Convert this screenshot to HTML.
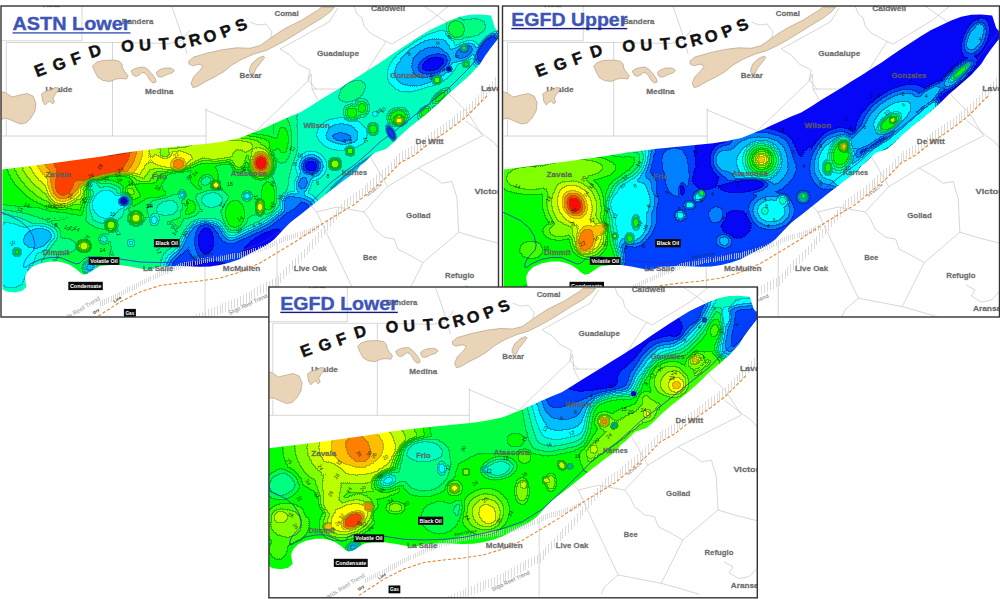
<!DOCTYPE html>
<html><head><meta charset="utf-8"><title>EGFD / ASTN isopach maps</title>
<style>html,body{margin:0;padding:0;background:#fff;}body{width:1000px;height:599px;overflow:hidden;font-family:"Liberation Sans",sans-serif;}svg{display:block;}</style>
</head><body>
<svg width="1000" height="599" viewBox="0 0 1000 599" font-family="Liberation Sans, sans-serif">
<defs>
<filter id="cmap" x="0" y="0" width="100%" height="100%" filterUnits="objectBoundingBox" color-interpolation-filters="sRGB"><feColorMatrix in="SourceGraphic" type="matrix" values="0 0 0 0 0  0 0 0 0 0  0 0 0 0 0  1 0 0 0 0" result="a"/><feComponentTransfer in="a" result="qa"><feFuncA type="discrete" tableValues="0.0000 0.0625 0.1250 0.1875 0.2500 0.3125 0.3750 0.4375 0.5000 0.5625 0.6250 0.6875 0.7500 0.8125 0.8750 0.9375 1.0000"/></feComponentTransfer><feMorphology in="qa" operator="dilate" radius="1.1" result="da"/><feComposite in="da" in2="qa" operator="arithmetic" k1="0" k2="14" k3="-14" k4="0" result="edge"/><feComponentTransfer in="edge" result="edge2"><feFuncA type="linear" slope="0.33"/></feComponentTransfer><feComponentTransfer in="SourceGraphic" result="col"><feFuncR type="discrete" tableValues="0.031 0.000 0.000 0.000 0.000 0.000 0.000 0.000 0.000 0.251 0.502 0.749 1.000 1.000 1.000 1.000 1.000"/><feFuncG type="discrete" tableValues="0.031 0.251 0.502 0.749 1.000 1.000 1.000 1.000 1.000 1.000 1.000 1.000 1.000 0.749 0.502 0.251 0.039"/><feFuncB type="discrete" tableValues="0.973 1.000 1.000 1.000 1.000 0.749 0.502 0.251 0.000 0.000 0.000 0.000 0.000 0.000 0.000 0.000 0.039"/></feComponentTransfer><feMerge><feMergeNode in="col"/><feMergeNode in="edge2"/></feMerge></filter>
<filter id="blur2_5" x="-50%" y="-50%" width="200%" height="200%" color-interpolation-filters="sRGB"><feGaussianBlur stdDeviation="2.5"/></filter><filter id="blur3" x="-50%" y="-50%" width="200%" height="200%" color-interpolation-filters="sRGB"><feGaussianBlur stdDeviation="3"/></filter><filter id="blur4" x="-50%" y="-50%" width="200%" height="200%" color-interpolation-filters="sRGB"><feGaussianBlur stdDeviation="4"/></filter><filter id="blur5" x="-50%" y="-50%" width="200%" height="200%" color-interpolation-filters="sRGB"><feGaussianBlur stdDeviation="5"/></filter><filter id="blur6" x="-50%" y="-50%" width="200%" height="200%" color-interpolation-filters="sRGB"><feGaussianBlur stdDeviation="6"/></filter><filter id="blur8" x="-50%" y="-50%" width="200%" height="200%" color-interpolation-filters="sRGB"><feGaussianBlur stdDeviation="8"/></filter>
<clipPath id="clipPoly"><polygon points="2.5,169.5 50,163.5 100,156.7 128,152.3 156,148.8 184,146 212,143.2 226,141 240,138 250,134 260,130 270,125.5 280,121 290,116.5 300,112.5 310,106.5 320,100 330,94 340,88 350,81.5 360,75.5 370,69 380,62.7 390,55.7 400,49 410,42.5 420,36 430,30 440,25.2 450,20.5 460,16.8 470,14.7 480,14.5 491,15.5 495,28 498.5,32 498.5,38 490,49 485,56 480,64 470,75 462,82 454,89 448,94 443,99 438,104 430,111 421,118.5 410,127 400,136 393,143 386,149 380,151 375,152.5 371,156 365,162 360,166 356.7,170.7 350,176 343.3,180.7 336.7,186 330,191 320,199 310,207 300,215 290,222.5 282,231 274,239.5 266,245.5 258,249.5 250,253.5 240,259 230,262.5 220,265 210,266.5 200,266.7 180,266 160,266.7 153,269 148,270 140,268.4 130,266.5 120,265 110,265 100,266 96,268 92,271 87,274 83,274.5 80,272.5 76,269 70,265 65,263 58,261.5 50,261.5 40,263.5 32,267 27,272 25,277 25.5,282 26.5,287 22,291 15,292.5 6,291.5 2.5,289"/></clipPath>
<clipPath id="frame0"><rect x="1" y="6" width="497.5" height="311"/></clipPath>
<clipPath id="frame1"><rect x="502.5" y="6" width="497" height="311"/></clipPath>
<clipPath id="frame2"><rect x="268.9" y="287" width="488.4" height="310.8"/></clipPath>
<g id="baseUnder"><g fill="none" stroke="#b4b4b4" stroke-width="0.55">
<polyline points="82,6 82,40.8 1,40.8"/>
<polyline points="6.3,42.5 113,42.5 170,43.5 182,40 190,30"/>
<polyline points="6.3,42.5 6.3,136"/>
<polyline points="112.5,42.5 112.5,136"/>
<polyline points="1,136 206,136"/>
<polyline points="206,108 206,160"/>
<polyline points="172,7 180,30 187,54"/>
<polyline points="206,110 232,121 256,131 282,106 308,81 311,74"/>
<polyline points="256,131 272,160"/>
<polyline points="250,22 258,25 266,24 272,32 270,40"/>
<polyline points="312,89 341,89"/>
<polyline points="311,74 312,89 318,100"/>
<polyline points="354,6 357,14 362,18 364,26 370,33 386,41.5 392,44 430,21 446,8 449,6"/>
<polyline points="386,41.5 370,66 364,76"/>
<polyline points="424,6 438,16 452,26"/>
<polyline points="280,49 329,22 338,8"/>
<polyline points="280,49 290,55 298,64 310,70 308,80 316,89"/>
<polyline points="369,154.4 387.6,186.6"/>
<polyline points="482.4,135.8 418,168 387.6,186.6 364,212"/>
<polyline points="418,168 435,178 441.8,183.2 452,181.5 457,198.4 458.7,232.2 423,262.7"/>
<polyline points="423,262.7 411.3,256 397.8,249 394.4,239 384.3,237.3 374,229 369,218.7 364,212"/>
<polyline points="465.4,120.6 494.2,142.6 500,150"/>
<polyline points="458.7,232.2 478,238 498,243"/>
<polyline points="448,93 468,113 482.4,135.8"/>
<polyline points="337,207 364,212"/>
<polyline points="316.6,212 337,207"/>
<polyline points="316.6,212 357.2,298.2 401,306.7 423,262.7"/>
<polyline points="357.2,298.2 343.7,310 340,318"/>
<polyline points="316.6,212 306,200"/>
<polyline points="401,306.7 420,312 440,318"/>
<polyline points="465,285 474,290 470,296 480,302 490,300 498,292"/>
<polyline points="205,224 205,320"/>
<polyline points="277,243 277,320"/>
</g>
<g font-weight="bold" font-size="16.5" fill="#111" stroke="#111" stroke-width="0.45" text-anchor="middle">
<text transform="translate(40 70) rotate(-21)" x="0" y="5.7">E</text>
<text transform="translate(59 64) rotate(-20)" x="0" y="5.7">G</text>
<text transform="translate(76 58.5) rotate(-20)" x="0" y="5.7">F</text>
<text transform="translate(95 51) rotate(-18)" x="0" y="5.7">D</text>
<text transform="translate(127.5 46) rotate(-6)" x="0" y="5.7">O</text>
<text transform="translate(145 45) rotate(-4)" x="0" y="5.7">U</text>
<text transform="translate(164 43.7) rotate(-4)" x="0" y="5.7">T</text>
<text transform="translate(180 42.3) rotate(-8)" x="0" y="5.7">C</text>
<text transform="translate(195 39.7) rotate(-14)" x="0" y="5.7">R</text>
<text transform="translate(210 36) rotate(-19)" x="0" y="5.7">O</text>
<text transform="translate(226 31) rotate(-22)" x="0" y="5.7">P</text>
<text transform="translate(241 25) rotate(-25)" x="0" y="5.7">S</text>
</g></g>
<g id="baseOver"><path d="M100.5 301.2v5.5M102.6 300.2v5.5M104.7 299.1v5.5M106.8 298.1v5.5M108.9 297.1v5.5M111.0 296.0v5.5M113.1 295.0v5.5M115.2 293.9v5.5M117.3 292.9v5.5M119.4 291.8v5.5M121.5 290.7v5.5M123.6 289.6v5.5M125.7 288.5v5.5M127.8 287.4v5.5M129.9 286.3v5.5M132.0 285.2v5.5M134.1 284.1v5.5M136.2 283.0v5.5M138.3 281.9v5.5M140.4 280.8v5.5M142.5 279.8v5.5M144.6 278.7v5.5M146.7 277.7v5.5M148.8 276.6v5.5M150.9 275.6v5.5M153.0 274.5v5.5M155.1 273.5v5.5M157.2 272.4v5.5M159.3 271.4v5.5M161.4 270.4v5.5M163.5 269.6v5.5M165.6 268.8v5.5M167.7 268.1v5.5M169.8 267.3v5.5M171.9 266.5v5.5M174.0 265.7v5.5M176.1 264.9v5.5M178.2 264.1v5.5M180.3 263.3v5.5M182.4 262.8v5.5M184.5 262.3v5.5M186.6 261.7v5.5M188.7 261.2v5.5M190.8 260.7v5.5M192.9 260.2v5.5M195.0 259.6v5.5M197.1 259.1v5.5M199.2 258.6v5.5M201.3 258.1v5.5M203.4 257.8v5.5M205.5 257.5v5.5M207.6 257.2v5.5M209.7 256.9v5.5M211.8 256.6v5.5M213.9 256.2v5.5M216.0 255.9v5.5M218.1 255.6v5.5M220.2 255.3v5.5M222.3 255.0v5.5M224.4 254.7v5.5M226.5 254.4v5.5M228.6 254.0v5.5M230.7 253.7v5.5M232.8 253.4v5.5M234.9 253.1v5.5M237.0 252.8v5.5M239.1 252.5v5.5M241.2 252.0v5.5M243.3 251.4v5.5M245.4 250.8v5.5M247.5 250.2v5.5M249.6 249.5v5.5M251.7 248.9v5.5M253.8 248.3v5.5M255.9 247.6v5.5M258.0 247.0v5.5M260.1 246.4v5.5M262.2 245.6v5.5M264.3 244.8v5.5M266.4 244.0v5.5M268.5 243.2v5.5M270.6 242.4v5.5M272.7 241.6v5.5M274.8 240.8v5.5M276.9 239.8v5.5M279.0 238.8v5.5M281.1 237.7v5.5M283.2 236.7v5.5M285.3 235.6v5.5M287.4 235.1v5.5M289.5 234.5v5.5M291.6 234.0v5.5M293.7 233.5v5.5M295.8 232.9v5.5M297.9 232.4v5.5M300.0 231.9v5.5M302.1 231.1v5.5M304.2 230.4v5.5M306.3 229.6v5.5M308.4 228.8v5.5M310.5 228.0v5.5M312.6 227.2v5.5M314.7 226.1v5.5M316.8 225.1v5.5M318.9 224.0v5.5" fill="none" stroke="#d2d2d2" stroke-width="0.8" shape-rendering="crispEdges"/>
<path d="M176.5 323.2v9.5M179.4 322.0v9.5M182.3 320.7v9.5M185.2 319.4v9.5M188.1 318.2v9.5M191.0 316.9v9.5M193.9 315.6v9.5M196.8 314.4v9.5M199.7 313.1v9.5M202.6 311.8v9.5M205.5 310.6v9.5M208.4 309.3v9.5M211.3 308.1v9.5M214.2 306.9v9.5M217.1 305.8v9.5M220.0 304.6v9.5M222.9 303.4v9.5M225.8 302.2v9.5M228.7 301.0v9.5M231.6 299.9v9.5M234.5 298.7v9.5M237.4 297.5v9.5M240.3 296.3v9.5M243.2 294.7v9.5M246.1 293.1v9.5M249.0 291.5v9.5M251.9 289.8v9.5M254.8 288.2v9.5M257.7 286.5v9.5M260.6 284.9v9.5M263.5 283.5v9.5M266.4 282.0v9.5M269.3 280.6v9.5M272.2 279.1v9.5M275.1 277.7v9.5M278.0 276.2v9.5M280.9 273.1v9.5M283.8 269.9v9.5M286.7 266.7v9.5M289.6 263.6v9.5M292.5 260.4v9.5M295.4 257.5v9.5M298.3 254.6v9.5M301.2 251.7v9.5M304.1 248.8v9.5M307.0 245.9v9.5M309.9 242.6v9.5M312.8 239.1v9.5M315.7 235.6v9.5M318.6 232.2v9.5M321.5 228.7v9.5M324.4 225.1v9.5M327.3 221.3v9.5M330.2 217.5v9.5M333.1 213.8v9.5M336.0 210.3v9.5M338.9 207.0v9.5M341.8 203.6v9.5M344.7 200.2v9.5M347.6 197.9v9.5M350.5 195.9v9.5M353.4 194.0v9.5M356.3 192.1v9.5M359.2 190.1v9.5M362.1 187.9v9.5M365.0 185.4v9.5M367.9 182.9v9.5M370.8 180.4v9.5M373.7 177.9v9.5M376.6 175.4v9.5M379.5 172.9v9.5M382.4 170.4v9.5M385.3 167.9v9.5M388.2 165.0v9.5M391.1 162.0v9.5M394.0 159.0v9.5M396.9 156.0v9.5M399.8 153.0v9.5M402.7 151.0v9.5M405.6 149.5v9.5M408.5 147.9v9.5M411.4 146.3v9.5M414.3 144.7v9.5M417.2 142.8v9.5M420.1 140.7v9.5M423.0 138.7v9.5M425.9 136.6v9.5M428.8 134.5v9.5M431.7 132.4v9.5M434.6 130.3v9.5M437.5 128.2v9.5M440.4 126.1v9.5M443.3 124.0v9.5M446.2 121.9v9.5M449.1 119.8v9.5M452.0 117.6v9.5M454.9 115.5v9.5M457.8 113.3v9.5M460.7 111.1v9.5M463.6 108.9v9.5M466.5 106.8v9.5M469.4 103.9v9.5M472.3 101.0v9.5M475.2 98.1v9.5M478.1 95.2v9.5M481.0 92.3v9.5M483.9 89.4v9.5M486.8 86.5v9.5M489.7 83.5v9.5M492.6 80.5v9.5M495.5 77.4v9.5M498.4 74.4v9.5" fill="none" stroke="#d2d2d2" stroke-width="0.8" shape-rendering="crispEdges"/>
<polyline points="94,319 100,315 120,302 140,292 160,285.5 180,283 200,281 220,278 240,272 260,263 280,251 298,240 325,222 355,204 385,178.7 400,163 415,154.7 430,142.7 448,130.6 466,117 478,105 487,96" fill="none" stroke="#e8862a" stroke-width="1.1" stroke-dasharray="3.2 2"/>
<polyline points="88,257 100,257 120,259 140,262 160,262.6 180,262 200,260 220,256 240,251 260,244 280,231.5 300,213 320,193.5 330,183.3 343.3,173 356.7,163 370,151.3 380,142 400,127 420,111 430,103 450,87 470,67 480,55 490,41 498.5,30" fill="none" stroke="#2a2ad8" stroke-width="0.8"/>
<polyline points="1,212 10,216 20,221 28,228 33,236 35,245 34,250 30,254 26,259 24,263 23.5,267 26,267.3 30,264 40,259.5 50,257.5 60,257.5 70,261.5 76,264 80,263 84,259 88,257" fill="none" stroke="#2a2ad8" stroke-width="0.8"/>
<g font-weight="bold" font-size="7.2" fill="#5e5e5e" fill-opacity="0.88" stroke="#5e5e5e" stroke-width="0.28" stroke-opacity="0.8">
<text x="121.7" y="23.9" textLength="31.6" lengthAdjust="spacingAndGlyphs">Bandera</text>
<text x="274.5" y="15.6" textLength="24.2" lengthAdjust="spacingAndGlyphs">Comal</text>
<text x="371" y="11.1" textLength="34" lengthAdjust="spacingAndGlyphs">Caldwell</text>
<text x="317" y="55.8" textLength="42" lengthAdjust="spacingAndGlyphs">Guadalupe</text>
<text x="239.5" y="78.4" textLength="22.2" lengthAdjust="spacingAndGlyphs">Bexar</text>
<text x="145" y="93.8" textLength="28.4" lengthAdjust="spacingAndGlyphs">Medina</text>
<text x="45.4" y="91.6" textLength="27" lengthAdjust="spacingAndGlyphs">Uvalde</text>
<text x="390.3" y="78.3" textLength="35" lengthAdjust="spacingAndGlyphs">Gonzales</text>
<text x="481" y="90.6" textLength="30" lengthAdjust="spacingAndGlyphs">Lavaca</text>
<text x="303.4" y="127.6" textLength="26.6" lengthAdjust="spacingAndGlyphs">Wilson</text>
<text x="415.6" y="144.1" textLength="28" lengthAdjust="spacingAndGlyphs">De Witt</text>
<text x="45.4" y="177.3" textLength="25.4" lengthAdjust="spacingAndGlyphs">Zavala</text>
<text x="152" y="179.4" textLength="14.8" lengthAdjust="spacingAndGlyphs">Frio</text>
<text x="230.8" y="176.2" textLength="36" lengthAdjust="spacingAndGlyphs">Atascosa</text>
<text x="342" y="174.6" textLength="25" lengthAdjust="spacingAndGlyphs">Karnes</text>
<text x="474.4" y="193.6" textLength="34" lengthAdjust="spacingAndGlyphs">Victoria</text>
<text x="406" y="218.4" textLength="24.6" lengthAdjust="spacingAndGlyphs">Goliad</text>
<text x="42.7" y="255.3" textLength="26.7" lengthAdjust="spacingAndGlyphs">Dimmit</text>
<text x="143" y="270.6" textLength="30.6" lengthAdjust="spacingAndGlyphs">La Salle</text>
<text x="222.8" y="270.6" textLength="37.5" lengthAdjust="spacingAndGlyphs">McMullen</text>
<text x="293.8" y="271.3" textLength="33.2" lengthAdjust="spacingAndGlyphs">Live Oak</text>
<text x="363" y="260.1" textLength="14" lengthAdjust="spacingAndGlyphs">Bee</text>
<text x="445" y="277.6" textLength="29.4" lengthAdjust="spacingAndGlyphs">Refugio</text>
<text x="471.7" y="311.4" textLength="33" lengthAdjust="spacingAndGlyphs">Aransas</text>
<text x="43" y="7.1" textLength="17" lengthAdjust="spacingAndGlyphs">Real</text>
</g>
<g fill="#ead4b7" stroke="#9c8468" stroke-width="0.5" stroke-linejoin="round">
<polygon points="0,91 6,93 12,97 20,95 27,93.5 33,96 36,103 35,111 31,118 26,123 20,124 13,121 6,118 0,120"/>
<polygon points="41.5,94 46,91 51,90 55,87.5 59,88 58,91 55.5,94 53,98 54.5,102 52.5,104 50,101 47,103 45,105 42.5,101 42,97"/>
<polygon points="92.5,66 96,62.5 102,60.5 112,60 119,61 122,64 122.5,68 125,72 128,75.5 126.5,79 121,78.5 116,79 110,81.5 103,80.5 98,77.5 95,72"/>
<polygon points="131,71 134,69 139,67.5 144,67 148,69.5 152,74 155.5,79 156,82 153,83 150,80.5 147.5,76 145,73 142,72.5 139.5,75 136,76.5 133,75"/>
<polygon points="156.5,72 160,69.5 165,68 171,68 174.5,70.5 172,73 167,74.5 162,77 158.5,77 157,75"/>
<polygon points="188.7,61 193.7,57 208.7,52.7 223.7,49.5 237,47.8 250.3,48.2 260,45.5 270,38.5 278,33 286,28 294,24 302,20 310,15 318,10 321.5,7 334.5,7 330,12 322,18 308,26.5 292,36.5 283.7,41.5 276,45.5 266,50.5 253.7,54.2 242,59.2 232,65 223.7,71.7 215.3,76.7 205.3,81.7 197,86.7 192.8,87.5 191,83.3 193.7,76.7 200.3,70 203,66 199,64.2 192.5,65.8 189,64"/>
<polygon points="249.5,69 252,63.3 257.8,58.3 262.8,56 264.7,57.3 260.3,63.3 256.2,68.3 254.2,73 251,74 249.5,72"/>
</g>
<rect x="153.9" y="239" width="25.6" height="8.3" fill="#0a0a0a"/>
<text x="155.5" y="245.1" textLength="22.4" lengthAdjust="spacingAndGlyphs" font-weight="bold" font-size="5.6" fill="#fff">Black Oil</text>
<rect x="88.6" y="257" width="30.8" height="7.9" fill="#0a0a0a"/>
<text x="90.2" y="262.7" textLength="27.6" lengthAdjust="spacingAndGlyphs" font-weight="bold" font-size="5.6" fill="#fff">Volatile Oil</text>
<rect x="68.3" y="281.8" width="34.5" height="8.3" fill="#0a0a0a"/>
<text x="69.9" y="287.9" textLength="31.3" lengthAdjust="spacingAndGlyphs" font-weight="bold" font-size="5.6" fill="#fff">Condensate</text>
<rect x="123.9" y="308.9" width="12" height="8" fill="#0a0a0a"/>
<text x="125.5" y="314.7" textLength="8.8" lengthAdjust="spacingAndGlyphs" font-weight="bold" font-size="5.6" fill="#fff">Gas</text>
<text transform="translate(229.5 315) rotate(-25)" font-size="5.7" fill="#777">Sligo Reef Trend</text>
<text transform="translate(100.5 299.8) rotate(-31)" text-anchor="end" font-size="6.2" fill="#9a9a9a">Edwards Reef Trend</text>
<text transform="translate(94 314.5) rotate(-35)" font-size="4.2" font-weight="bold" fill="#333">Dry</text>
<text transform="translate(114.5 303) rotate(-33)" font-size="4.2" font-weight="bold" fill="#333">Line</text>
<text transform="translate(191 258.5) rotate(-10)" font-size="3.8" fill="#223">Black Oil Line</text>
<text transform="translate(367.5 197) rotate(-40)" font-size="3.2" fill="#333">Dry Gas Line</text></g>
</defs>
<rect width="1000" height="599" fill="#fff"/>
<g clip-path="url(#frame0)">
<rect x="1" y="6" width="497.5" height="311" fill="#fff"/>
<g transform="translate(0 0) scale(1)">
<use href="#baseUnder"/>
<defs><radialGradient id="g0_0"><stop offset="0" stop-color="#eeeeee"/><stop offset="0.38" stop-color="#eeeeee"/><stop offset="1" stop-color="#eeeeee" stop-opacity="0"/></radialGradient><radialGradient id="g0_1"><stop offset="0" stop-color="#fdfdfd"/><stop offset="0.5" stop-color="#fdfdfd"/><stop offset="1" stop-color="#fdfdfd" stop-opacity="0"/></radialGradient><radialGradient id="g0_2"><stop offset="0" stop-color="#e6e6e6"/><stop offset="0.35" stop-color="#e6e6e6"/><stop offset="1" stop-color="#e6e6e6" stop-opacity="0"/></radialGradient><radialGradient id="g0_3"><stop offset="0" stop-color="#7d7d7d"/><stop offset="0.6" stop-color="#7d7d7d"/><stop offset="1" stop-color="#7d7d7d" stop-opacity="0"/></radialGradient><radialGradient id="g0_4"><stop offset="0" stop-color="#383838"/><stop offset="0.55" stop-color="#383838"/><stop offset="1" stop-color="#383838" stop-opacity="0"/></radialGradient><radialGradient id="g0_5"><stop offset="0" stop-color="#7a7a7a"/><stop offset="0.35" stop-color="#7a7a7a"/><stop offset="1" stop-color="#7a7a7a" stop-opacity="0"/></radialGradient><radialGradient id="g0_6"><stop offset="0" stop-color="#5c5c5c"/><stop offset="0.35" stop-color="#5c5c5c"/><stop offset="1" stop-color="#5c5c5c" stop-opacity="0"/></radialGradient><radialGradient id="g0_7"><stop offset="0" stop-color="#373737"/><stop offset="0.4" stop-color="#373737"/><stop offset="1" stop-color="#373737" stop-opacity="0"/></radialGradient><radialGradient id="g0_8"><stop offset="0" stop-color="#a6a6a6"/><stop offset="0.5" stop-color="#a6a6a6"/><stop offset="1" stop-color="#a6a6a6" stop-opacity="0"/></radialGradient><radialGradient id="g0_9"><stop offset="0" stop-color="#bebebe"/><stop offset="0.4" stop-color="#bebebe"/><stop offset="1" stop-color="#bebebe" stop-opacity="0"/></radialGradient><radialGradient id="g0_10"><stop offset="0" stop-color="#828282"/><stop offset="0.5" stop-color="#828282"/><stop offset="1" stop-color="#828282" stop-opacity="0"/></radialGradient><radialGradient id="g0_11"><stop offset="0" stop-color="#5e5e5e"/><stop offset="0.4" stop-color="#5e5e5e"/><stop offset="1" stop-color="#5e5e5e" stop-opacity="0"/></radialGradient><radialGradient id="g0_12"><stop offset="0" stop-color="#9c9c9c"/><stop offset="0.4" stop-color="#9c9c9c"/><stop offset="1" stop-color="#9c9c9c" stop-opacity="0"/></radialGradient><radialGradient id="g0_13"><stop offset="0" stop-color="#454545"/><stop offset="0.5" stop-color="#454545"/><stop offset="1" stop-color="#454545" stop-opacity="0"/></radialGradient><radialGradient id="g0_14"><stop offset="0" stop-color="#4d4d4d"/><stop offset="0.35" stop-color="#4d4d4d"/><stop offset="1" stop-color="#4d4d4d" stop-opacity="0"/></radialGradient><radialGradient id="g0_15"><stop offset="0" stop-color="#343434"/><stop offset="0.3" stop-color="#343434"/><stop offset="1" stop-color="#343434" stop-opacity="0"/></radialGradient><radialGradient id="g0_16"><stop offset="0" stop-color="#0c0c0c"/><stop offset="0.4" stop-color="#0c0c0c"/><stop offset="1" stop-color="#0c0c0c" stop-opacity="0"/></radialGradient><radialGradient id="g0_17"><stop offset="0" stop-color="#7d7d7d"/><stop offset="0.5" stop-color="#7d7d7d"/><stop offset="1" stop-color="#7d7d7d" stop-opacity="0"/></radialGradient><radialGradient id="g0_18"><stop offset="0" stop-color="#7d7d7d"/><stop offset="0.5" stop-color="#7d7d7d"/><stop offset="1" stop-color="#7d7d7d" stop-opacity="0"/></radialGradient><radialGradient id="g0_19"><stop offset="0" stop-color="#545454"/><stop offset="0.4" stop-color="#545454"/><stop offset="1" stop-color="#545454" stop-opacity="0"/></radialGradient><radialGradient id="g0_20"><stop offset="0" stop-color="#515151"/><stop offset="0.4" stop-color="#515151"/><stop offset="1" stop-color="#515151" stop-opacity="0"/></radialGradient><radialGradient id="g0_21"><stop offset="0" stop-color="#808080"/><stop offset="0.5" stop-color="#808080"/><stop offset="1" stop-color="#808080" stop-opacity="0"/></radialGradient><radialGradient id="g0_22"><stop offset="0" stop-color="#808080"/><stop offset="0.5" stop-color="#808080"/><stop offset="1" stop-color="#808080" stop-opacity="0"/></radialGradient><radialGradient id="g0_23"><stop offset="0" stop-color="#acacac"/><stop offset="0.3" stop-color="#acacac"/><stop offset="1" stop-color="#acacac" stop-opacity="0"/></radialGradient><radialGradient id="g0_24"><stop offset="0" stop-color="#a4a4a4"/><stop offset="0.35" stop-color="#a4a4a4"/><stop offset="1" stop-color="#a4a4a4" stop-opacity="0"/></radialGradient><radialGradient id="g0_25"><stop offset="0" stop-color="#acacac"/><stop offset="0.35" stop-color="#acacac"/><stop offset="1" stop-color="#acacac" stop-opacity="0"/></radialGradient><radialGradient id="g0_26"><stop offset="0" stop-color="#404040"/><stop offset="0.35" stop-color="#404040"/><stop offset="1" stop-color="#404040" stop-opacity="0"/></radialGradient><radialGradient id="g0_27"><stop offset="0" stop-color="#464646"/><stop offset="0.35" stop-color="#464646"/><stop offset="1" stop-color="#464646" stop-opacity="0"/></radialGradient><radialGradient id="g0_28"><stop offset="0" stop-color="#4d4d4d"/><stop offset="0.35" stop-color="#4d4d4d"/><stop offset="1" stop-color="#4d4d4d" stop-opacity="0"/></radialGradient><radialGradient id="g0_29"><stop offset="0" stop-color="#454545"/><stop offset="0.35" stop-color="#454545"/><stop offset="1" stop-color="#454545" stop-opacity="0"/></radialGradient><radialGradient id="g0_30"><stop offset="0" stop-color="#424242"/><stop offset="0.35" stop-color="#424242"/><stop offset="1" stop-color="#424242" stop-opacity="0"/></radialGradient><radialGradient id="g0_31"><stop offset="0" stop-color="#b9b9b9"/><stop offset="0.35" stop-color="#b9b9b9"/><stop offset="1" stop-color="#b9b9b9" stop-opacity="0"/></radialGradient><radialGradient id="g0_32"><stop offset="0" stop-color="#b4b4b4"/><stop offset="0.35" stop-color="#b4b4b4"/><stop offset="1" stop-color="#b4b4b4" stop-opacity="0"/></radialGradient><radialGradient id="g0_33"><stop offset="0" stop-color="#a1a1a1"/><stop offset="0.35" stop-color="#a1a1a1"/><stop offset="1" stop-color="#a1a1a1" stop-opacity="0"/></radialGradient><radialGradient id="g0_34"><stop offset="0" stop-color="#e0e0e0"/><stop offset="0.3" stop-color="#e0e0e0"/><stop offset="1" stop-color="#e0e0e0" stop-opacity="0"/></radialGradient><radialGradient id="g0_35"><stop offset="0" stop-color="#c0c0c0"/><stop offset="0.5" stop-color="#c0c0c0"/><stop offset="1" stop-color="#c0c0c0" stop-opacity="0"/></radialGradient><radialGradient id="g0_36"><stop offset="0" stop-color="#ffffff"/><stop offset="0.25" stop-color="#ffffff"/><stop offset="1" stop-color="#ffffff" stop-opacity="0"/></radialGradient><radialGradient id="g0_37"><stop offset="0" stop-color="#1e1e1e"/><stop offset="0.5" stop-color="#1e1e1e"/><stop offset="1" stop-color="#1e1e1e" stop-opacity="0"/></radialGradient><radialGradient id="g0_38"><stop offset="0" stop-color="#080808"/><stop offset="0.55" stop-color="#080808"/><stop offset="1" stop-color="#080808" stop-opacity="0"/></radialGradient><radialGradient id="g0_39"><stop offset="0" stop-color="#080808"/><stop offset="0.5" stop-color="#080808"/><stop offset="1" stop-color="#080808" stop-opacity="0"/></radialGradient><radialGradient id="g0_40"><stop offset="0" stop-color="#0c0c0c"/><stop offset="0.5" stop-color="#0c0c0c"/><stop offset="1" stop-color="#0c0c0c" stop-opacity="0"/></radialGradient><radialGradient id="g0_41"><stop offset="0" stop-color="#7a7a7a"/><stop offset="0.4" stop-color="#7a7a7a"/><stop offset="1" stop-color="#7a7a7a" stop-opacity="0"/></radialGradient><radialGradient id="g0_42"><stop offset="0" stop-color="#595959"/><stop offset="0.35" stop-color="#595959"/><stop offset="1" stop-color="#595959" stop-opacity="0"/></radialGradient><radialGradient id="g0_43"><stop offset="0" stop-color="#222222"/><stop offset="0.3" stop-color="#222222"/><stop offset="1" stop-color="#222222" stop-opacity="0"/></radialGradient><radialGradient id="g0_44"><stop offset="0" stop-color="#222222"/><stop offset="0.35" stop-color="#222222"/><stop offset="1" stop-color="#222222" stop-opacity="0"/></radialGradient><radialGradient id="g0_45"><stop offset="0" stop-color="#2d2d2d"/><stop offset="0.5" stop-color="#2d2d2d"/><stop offset="1" stop-color="#2d2d2d" stop-opacity="0"/></radialGradient><radialGradient id="g0_46"><stop offset="0" stop-color="#080808"/><stop offset="0.45" stop-color="#080808"/><stop offset="1" stop-color="#080808" stop-opacity="0"/></radialGradient><radialGradient id="g0_47"><stop offset="0" stop-color="#3a3a3a"/><stop offset="0.5" stop-color="#3a3a3a"/><stop offset="1" stop-color="#3a3a3a" stop-opacity="0"/></radialGradient><radialGradient id="g0_48"><stop offset="0" stop-color="#2a2a2a"/><stop offset="0.5" stop-color="#2a2a2a"/><stop offset="1" stop-color="#2a2a2a" stop-opacity="0"/></radialGradient><radialGradient id="g0_49"><stop offset="0" stop-color="#2d2d2d"/><stop offset="0.6" stop-color="#2d2d2d"/><stop offset="1" stop-color="#2d2d2d" stop-opacity="0"/></radialGradient><radialGradient id="g0_50"><stop offset="0" stop-color="#636363"/><stop offset="0.5" stop-color="#636363"/><stop offset="1" stop-color="#636363" stop-opacity="0"/></radialGradient><radialGradient id="g0_51"><stop offset="0" stop-color="#575757"/><stop offset="0.35" stop-color="#575757"/><stop offset="1" stop-color="#575757" stop-opacity="0"/></radialGradient><radialGradient id="g0_52"><stop offset="0" stop-color="#818181"/><stop offset="0.35" stop-color="#818181"/><stop offset="1" stop-color="#818181" stop-opacity="0"/></radialGradient><radialGradient id="g0_53"><stop offset="0" stop-color="#7a7a7a"/><stop offset="0.35" stop-color="#7a7a7a"/><stop offset="1" stop-color="#7a7a7a" stop-opacity="0"/></radialGradient><radialGradient id="g0_54"><stop offset="0" stop-color="#a4a4a4"/><stop offset="0.35" stop-color="#a4a4a4"/><stop offset="1" stop-color="#a4a4a4" stop-opacity="0"/></radialGradient><radialGradient id="g0_55"><stop offset="0" stop-color="#949494"/><stop offset="0.35" stop-color="#949494"/><stop offset="1" stop-color="#949494" stop-opacity="0"/></radialGradient><radialGradient id="g0_56"><stop offset="0" stop-color="#818181"/><stop offset="0.35" stop-color="#818181"/><stop offset="1" stop-color="#818181" stop-opacity="0"/></radialGradient><radialGradient id="g0_57"><stop offset="0" stop-color="#7d7d7d"/><stop offset="0.5" stop-color="#7d7d7d"/><stop offset="1" stop-color="#7d7d7d" stop-opacity="0"/></radialGradient><radialGradient id="g0_58"><stop offset="0" stop-color="#b4b4b4"/><stop offset="0.3" stop-color="#b4b4b4"/><stop offset="1" stop-color="#b4b4b4" stop-opacity="0"/></radialGradient><radialGradient id="g0_59"><stop offset="0" stop-color="#141414"/><stop offset="0.5" stop-color="#141414"/><stop offset="1" stop-color="#141414" stop-opacity="0"/></radialGradient><radialGradient id="g0_60"><stop offset="0" stop-color="#3c3c3c"/><stop offset="0.35" stop-color="#3c3c3c"/><stop offset="1" stop-color="#3c3c3c" stop-opacity="0"/></radialGradient><radialGradient id="g0_61"><stop offset="0" stop-color="#444444"/><stop offset="0.6" stop-color="#444444"/><stop offset="1" stop-color="#444444" stop-opacity="0"/></radialGradient><radialGradient id="g0_62"><stop offset="0" stop-color="#383838"/><stop offset="0.55" stop-color="#383838"/><stop offset="1" stop-color="#383838" stop-opacity="0"/></radialGradient><radialGradient id="g0_63"><stop offset="0" stop-color="#2a2a2a"/><stop offset="0.5" stop-color="#2a2a2a"/><stop offset="1" stop-color="#2a2a2a" stop-opacity="0"/></radialGradient><radialGradient id="g0_64"><stop offset="0" stop-color="#0a0a0a"/><stop offset="0.5" stop-color="#0a0a0a"/><stop offset="1" stop-color="#0a0a0a" stop-opacity="0"/></radialGradient><radialGradient id="g0_65"><stop offset="0" stop-color="#080808"/><stop offset="0.35" stop-color="#080808"/><stop offset="1" stop-color="#080808" stop-opacity="0"/></radialGradient><radialGradient id="g0_66"><stop offset="0" stop-color="#2a2a2a"/><stop offset="0.5" stop-color="#2a2a2a"/><stop offset="1" stop-color="#2a2a2a" stop-opacity="0"/></radialGradient><radialGradient id="g0_67"><stop offset="0" stop-color="#101010"/><stop offset="0.6" stop-color="#101010"/><stop offset="1" stop-color="#101010" stop-opacity="0"/></radialGradient><radialGradient id="g0_68"><stop offset="0" stop-color="#5c5c5c"/><stop offset="0.6" stop-color="#5c5c5c"/><stop offset="1" stop-color="#5c5c5c" stop-opacity="0"/></radialGradient><radialGradient id="g0_69"><stop offset="0" stop-color="#707070"/><stop offset="0.5" stop-color="#707070"/><stop offset="1" stop-color="#707070" stop-opacity="0"/></radialGradient><radialGradient id="g0_70"><stop offset="0" stop-color="#949494"/><stop offset="0.35" stop-color="#949494"/><stop offset="1" stop-color="#949494" stop-opacity="0"/></radialGradient><radialGradient id="g0_71"><stop offset="0" stop-color="#7a7a7a"/><stop offset="0.35" stop-color="#7a7a7a"/><stop offset="1" stop-color="#7a7a7a" stop-opacity="0"/></radialGradient><radialGradient id="g0_72"><stop offset="0" stop-color="#7a7a7a"/><stop offset="0.35" stop-color="#7a7a7a"/><stop offset="1" stop-color="#7a7a7a" stop-opacity="0"/></radialGradient><radialGradient id="g0_73"><stop offset="0" stop-color="#7a7a7a"/><stop offset="0.35" stop-color="#7a7a7a"/><stop offset="1" stop-color="#7a7a7a" stop-opacity="0"/></radialGradient><radialGradient id="g0_74"><stop offset="0" stop-color="#7a7a7a"/><stop offset="0.35" stop-color="#7a7a7a"/><stop offset="1" stop-color="#7a7a7a" stop-opacity="0"/></radialGradient></defs>
<g clip-path="url(#clipPoly)">
<g filter="url(#cmap)">
<rect x="-10" y="0" width="520" height="330" fill="#696969"/>
<g filter="url(#blur5)">
<polygon points="284,108 296,100 296,150 288,172 284,210 274,204 279,165 285,140" fill="#626262"/>
<polygon points="296,100 330,80 400,35 500,0 510,60 420,130 330,195 300,222 284,208 289,172 297,150" fill="#515151"/>
<polygon points="-5,211 20,217 40,227 52,244 42,262 25,295 -5,295" fill="#494949"/>
<polygon points="-5,160 55,155 60,210 -5,206" fill="#808080"/>
</g>
<g filter="url(#blur4)">
<polygon points="118,229 160,227 178,240 170,264 120,264" fill="#5e5e5e"/>
</g>
<g filter="url(#blur5)">
<polygon points="160,282 225,276 262,262 306,226 318,204 300,194 284,208 266,222 244,232 228,240 219,222 195,222 184,244 168,258" fill="#141414"/>
</g>
<ellipse cx="90" cy="148" rx="90" ry="72" fill="url(#g0_0)"/>
<ellipse cx="115" cy="148" rx="36" ry="6.5" fill="url(#g0_1)" transform="rotate(-7 115 148)"/>
<ellipse cx="64" cy="184" rx="18" ry="26" fill="url(#g0_2)" transform="rotate(10 64 184)"/>
<ellipse cx="110" cy="184" rx="34" ry="12" fill="url(#g0_3)" transform="rotate(-10 110 184)"/>
<ellipse cx="38" cy="238" rx="24" ry="16" fill="url(#g0_4)" transform="rotate(-15 38 238)"/>
<ellipse cx="17" cy="252" rx="4" ry="4" fill="url(#g0_5)"/>
<ellipse cx="62" cy="246" rx="16" ry="9" fill="url(#g0_6)"/>
<ellipse cx="90" cy="267" rx="9" ry="8" fill="url(#g0_7)" transform="rotate(-30 90 267)"/>
<ellipse cx="215" cy="150" rx="72" ry="17" fill="url(#g0_8)" transform="rotate(-6 215 150)"/>
<ellipse cx="172" cy="160" rx="30" ry="14" fill="url(#g0_9)"/>
<ellipse cx="204" cy="176" rx="19" ry="19" fill="url(#g0_10)"/>
<ellipse cx="206" cy="181" rx="10" ry="8" fill="url(#g0_11)" transform="rotate(-30 206 181)"/>
<ellipse cx="165" cy="154" rx="9" ry="6" fill="url(#g0_12)"/>
<ellipse cx="106" cy="204" rx="27" ry="26" fill="url(#g0_13)" transform="rotate(-10 106 204)"/>
<ellipse cx="93" cy="185" rx="8" ry="8" fill="url(#g0_14)"/>
<ellipse cx="124" cy="201" rx="10" ry="10" fill="url(#g0_15)"/>
<ellipse cx="124" cy="201" rx="6" ry="6" fill="url(#g0_16)"/>
<ellipse cx="150" cy="190" rx="24" ry="9" fill="url(#g0_17)" transform="rotate(15 150 190)"/>
<ellipse cx="186" cy="207" rx="14" ry="11" fill="url(#g0_18)"/>
<ellipse cx="168" cy="208" rx="22" ry="14" fill="url(#g0_19)" transform="rotate(-10 168 208)"/>
<ellipse cx="212" cy="200" rx="18" ry="13" fill="url(#g0_20)"/>
<ellipse cx="235" cy="214" rx="13" ry="19" fill="url(#g0_21)"/>
<ellipse cx="268" cy="196" rx="9" ry="20" fill="url(#g0_22)"/>
<ellipse cx="136" cy="218" rx="8" ry="8" fill="url(#g0_23)"/>
<ellipse cx="111" cy="225" rx="7" ry="7" fill="url(#g0_24)"/>
<ellipse cx="84" cy="246" rx="8" ry="7" fill="url(#g0_25)"/>
<ellipse cx="154" cy="220" rx="7" ry="8" fill="url(#g0_26)"/>
<ellipse cx="131" cy="243" rx="5" ry="5" fill="url(#g0_27)"/>
<ellipse cx="104" cy="239" rx="6" ry="6" fill="url(#g0_28)"/>
<ellipse cx="182" cy="195" rx="5" ry="6" fill="url(#g0_29)"/>
<ellipse cx="247" cy="196" rx="6" ry="6" fill="url(#g0_30)"/>
<ellipse cx="216" cy="185" rx="5" ry="5" fill="url(#g0_31)"/>
<ellipse cx="260" cy="207" rx="5" ry="9" fill="url(#g0_32)"/>
<ellipse cx="239" cy="160" rx="10" ry="14" fill="url(#g0_33)"/>
<ellipse cx="178.5" cy="164.5" rx="8" ry="7" fill="url(#g0_34)"/>
<ellipse cx="261" cy="163" rx="15" ry="18" fill="url(#g0_35)"/>
<ellipse cx="261" cy="163" rx="9" ry="11" fill="url(#g0_36)"/>
<ellipse cx="203" cy="246" rx="26" ry="28" fill="url(#g0_37)"/>
<ellipse cx="206" cy="241" rx="12" ry="20" fill="url(#g0_38)"/>
<ellipse cx="262" cy="243" rx="30" ry="11" fill="url(#g0_39)" transform="rotate(-33 262 243)"/>
<ellipse cx="205" cy="264" rx="34" ry="5" fill="url(#g0_40)"/>
<ellipse cx="283" cy="140" rx="10" ry="26" fill="url(#g0_41)"/>
<ellipse cx="345" cy="100" rx="30" ry="14" fill="url(#g0_42)" transform="rotate(-30 345 100)"/>
<ellipse cx="303" cy="183" rx="10" ry="14" fill="url(#g0_43)" transform="rotate(20 303 183)"/>
<ellipse cx="290" cy="202" rx="12" ry="12" fill="url(#g0_44)"/>
<ellipse cx="311" cy="166" rx="18" ry="17" fill="url(#g0_45)"/>
<ellipse cx="311" cy="166" rx="11" ry="10" fill="url(#g0_46)"/>
<ellipse cx="342" cy="134" rx="30" ry="20" fill="url(#g0_47)"/>
<ellipse cx="342" cy="137" rx="17" ry="8" fill="url(#g0_48)" transform="rotate(5 342 137)"/>
<ellipse cx="352" cy="174" rx="38" ry="5" fill="url(#g0_49)" transform="rotate(-39 352 174)"/>
<ellipse cx="353" cy="90" rx="16" ry="10" fill="url(#g0_50)" transform="rotate(-30 353 90)"/>
<ellipse cx="313" cy="110" rx="10" ry="10" fill="url(#g0_51)"/>
<ellipse cx="352" cy="113" rx="9" ry="9" fill="url(#g0_52)"/>
<ellipse cx="362" cy="108" rx="8" ry="10" fill="url(#g0_53)"/>
<ellipse cx="335" cy="164" rx="7" ry="7" fill="url(#g0_54)"/>
<ellipse cx="350" cy="151" rx="5" ry="5" fill="url(#g0_55)"/>
<ellipse cx="373" cy="129" rx="6" ry="7" fill="url(#g0_56)"/>
<ellipse cx="398" cy="117" rx="12" ry="10" fill="url(#g0_57)" transform="rotate(-20 398 117)"/>
<ellipse cx="399" cy="120.5" rx="6" ry="6" fill="url(#g0_58)"/>
<ellipse cx="391" cy="133" rx="5" ry="11" fill="url(#g0_59)" transform="rotate(-25 391 133)"/>
<ellipse cx="375" cy="114" rx="4" ry="4" fill="url(#g0_60)"/>
<ellipse cx="425" cy="50" rx="40" ry="16" fill="url(#g0_61)" transform="rotate(-33 425 50)"/>
<ellipse cx="412" cy="70" rx="30" ry="24" fill="url(#g0_62)" transform="rotate(-30 412 70)"/>
<ellipse cx="430" cy="62" rx="34" ry="26" fill="url(#g0_63)" transform="rotate(-30 430 62)"/>
<ellipse cx="433" cy="64" rx="20" ry="12" fill="url(#g0_64)" transform="rotate(-20 433 64)"/>
<ellipse cx="449" cy="69" rx="4" ry="4" fill="url(#g0_65)"/>
<ellipse cx="464" cy="52" rx="18" ry="11" fill="url(#g0_66)" transform="rotate(-30 464 52)"/>
<ellipse cx="487" cy="49" rx="22" ry="10" fill="url(#g0_67)" transform="rotate(-55 487 49)"/>
<ellipse cx="470" cy="28" rx="22" ry="12" fill="url(#g0_68)" transform="rotate(-10 470 28)"/>
<ellipse cx="456" cy="29" rx="11" ry="12" fill="url(#g0_69)" transform="rotate(-15 456 29)"/>
<ellipse cx="437" cy="80" rx="5" ry="5" fill="url(#g0_70)"/>
<ellipse cx="464" cy="48" rx="4" ry="4" fill="url(#g0_71)"/>
<ellipse cx="466" cy="64" rx="4" ry="4" fill="url(#g0_72)"/>
<ellipse cx="440" cy="97" rx="14" ry="5" fill="url(#g0_73)" transform="rotate(-42 440 97)"/>
<ellipse cx="425" cy="112" rx="10" ry="5" fill="url(#g0_74)" transform="rotate(-42 425 112)"/>
</g>
<g font-size="5.3" fill="#0a0a0a" fill-opacity="0.9" text-anchor="middle">
<text transform="translate(100 166.8) rotate(-60)" y="1.8">28</text>
<text transform="translate(91 175.8) rotate(-25)" y="1.8">26</text>
<text transform="translate(120.5 170) rotate(-30)" y="1.8">24</text>
<text transform="translate(118 174.6) rotate(-30)" y="1.8">22</text>
<text transform="translate(106 179) rotate(-40)" y="1.8">20</text>
<text transform="translate(90 184.8) rotate(20)" y="1.8">18</text>
<text transform="translate(119.4 180) rotate(-20)" y="1.8">16</text>
<text transform="translate(130.6 183.6) rotate(0)" y="1.8">14</text>
<text transform="translate(84.5 200.5) rotate(70)" y="1.8">14</text>
<text transform="translate(70 196) rotate(-70)" y="1.8">22</text>
<text transform="translate(27 205) rotate(20)" y="1.8">14</text>
<text transform="translate(20 209.5) rotate(15)" y="1.8">12</text>
<text transform="translate(48 206.5) rotate(-20)" y="1.8">16</text>
<text transform="translate(53 206.5) rotate(-20)" y="1.8">18</text>
<text transform="translate(58 206) rotate(-20)" y="1.8">20</text>
<text transform="translate(63 205.5) rotate(-20)" y="1.8">22</text>
<text transform="translate(56 225) rotate(0)" y="1.8">8</text>
<text transform="translate(67 228) rotate(30)" y="1.8">10</text>
<text transform="translate(72 228.5) rotate(30)" y="1.8">12</text>
<text transform="translate(77 229) rotate(30)" y="1.8">14</text>
<text transform="translate(112.6 214) rotate(0)" y="1.8">10</text>
<text transform="translate(150 206) rotate(0)" y="1.8">14</text>
<text transform="translate(118 233) rotate(60)" y="1.8">12</text>
<text transform="translate(86.7 237.7) rotate(-45)" y="1.8">16</text>
<text transform="translate(102.5 250) rotate(0)" y="1.8">14</text>
<text transform="translate(12.4 243.3) rotate(-30)" y="1.8">10</text>
<text transform="translate(157.7 188) rotate(30)" y="1.8">18</text>
<text transform="translate(176 155) rotate(-40)" y="1.8">22</text>
<text transform="translate(189 177.5) rotate(-40)" y="1.8">20</text>
<text transform="translate(195 173.8) rotate(-40)" y="1.8">14</text>
<text transform="translate(230 183.8) rotate(0)" y="1.8">16</text>
<text transform="translate(243.8 168.8) rotate(70)" y="1.8">18</text>
<text transform="translate(220 188.8) rotate(-20)" y="1.8">16</text>
<text transform="translate(186 203.8) rotate(-30)" y="1.8">14</text>
<text transform="translate(148.8 206) rotate(0)" y="1.8">14</text>
<text transform="translate(222.5 205) rotate(30)" y="1.8">12</text>
<text transform="translate(240 218.8) rotate(-30)" y="1.8">14</text>
<text transform="translate(256 197.5) rotate(80)" y="1.8">12</text>
<text transform="translate(272.5 183.8) rotate(-70)" y="1.8">14</text>
<text transform="translate(272.5 205) rotate(-70)" y="1.8">12</text>
<text transform="translate(280 197.5) rotate(-70)" y="1.8">10</text>
<text transform="translate(292.5 148.8) rotate(20)" y="1.8">12</text>
<text transform="translate(300 155) rotate(20)" y="1.8">10</text>
<text transform="translate(295 163.8) rotate(20)" y="1.8">8</text>
<text transform="translate(312.5 175) rotate(0)" y="1.8">4</text>
<text transform="translate(185 233.8) rotate(-50)" y="1.8">10</text>
<text transform="translate(175 232.5) rotate(-50)" y="1.8">14</text>
<text transform="translate(158.8 251) rotate(60)" y="1.8">12</text>
<text transform="translate(253.8 226) rotate(-30)" y="1.8">4</text>
<text transform="translate(260 223.8) rotate(-30)" y="1.8">6</text>
<text transform="translate(238.8 230) rotate(-40)" y="1.8">10</text>
<text transform="translate(344.6 141) rotate(0)" y="1.8">6</text>
<text transform="translate(350.6 141) rotate(0)" y="1.8">8</text>
<text transform="translate(365.7 139.7) rotate(80)" y="1.8">10</text>
<text transform="translate(379 111) rotate(-40)" y="1.8">10</text>
<text transform="translate(317.6 183) rotate(0)" y="1.8">6</text>
<text transform="translate(328 175.7) rotate(0)" y="1.8">8</text>
<text transform="translate(431.8 75) rotate(0)" y="1.8">6</text>
<text transform="translate(409 54) rotate(-30)" y="1.8">8</text>
<text transform="translate(438 43) rotate(-60)" y="1.8">6</text>
<text transform="translate(449 37) rotate(-30)" y="1.8">8</text>
<text transform="translate(457 56) rotate(60)" y="1.8">6</text>
<text transform="translate(431 78) rotate(0)" y="1.8">6</text>
<text transform="translate(383 110) rotate(-50)" y="1.8">10</text>
<text transform="translate(444 70) rotate(0)" y="1.8">4</text>
</g>
</g>
<use href="#baseOver"/>
</g>
</g>
<rect x="1" y="6" width="497.5" height="311" fill="none" stroke="#333" stroke-width="1.4"/>
<text x="12.5" y="30" textLength="118" lengthAdjust="spacingAndGlyphs" font-family="Liberation Sans, sans-serif" font-weight="bold" font-size="17.6" fill="#3d55b6" stroke="#3d55b6" stroke-width="0.35">ASTN Lower</text>
<rect x="12.5" y="32.2" width="118" height="1.4" fill="#3d55b6"/>
<g clip-path="url(#frame1)">
<rect x="502.5" y="6" width="497" height="311" fill="#fff"/>
<g transform="translate(501.2 0) scale(1)">
<use href="#baseUnder"/>
<defs><radialGradient id="g1_0"><stop offset="0" stop-color="#a0a0a0"/><stop offset="0.4" stop-color="#a0a0a0"/><stop offset="1" stop-color="#a0a0a0" stop-opacity="0"/></radialGradient><radialGradient id="g1_1"><stop offset="0" stop-color="#a1a1a1"/><stop offset="0.35" stop-color="#a1a1a1"/><stop offset="1" stop-color="#a1a1a1" stop-opacity="0"/></radialGradient><radialGradient id="g1_2"><stop offset="0" stop-color="#b1b1b1"/><stop offset="0.55" stop-color="#b1b1b1"/><stop offset="1" stop-color="#b1b1b1" stop-opacity="0"/></radialGradient><radialGradient id="g1_3"><stop offset="0" stop-color="#c4c4c4"/><stop offset="0.5" stop-color="#c4c4c4"/><stop offset="1" stop-color="#c4c4c4" stop-opacity="0"/></radialGradient><radialGradient id="g1_4"><stop offset="0" stop-color="#e2e2e2"/><stop offset="0.5" stop-color="#e2e2e2"/><stop offset="1" stop-color="#e2e2e2" stop-opacity="0"/></radialGradient><radialGradient id="g1_5"><stop offset="0" stop-color="#fdfdfd"/><stop offset="0.3" stop-color="#fdfdfd"/><stop offset="1" stop-color="#fdfdfd" stop-opacity="0"/></radialGradient><radialGradient id="g1_6"><stop offset="0" stop-color="#9c9c9c"/><stop offset="0.35" stop-color="#9c9c9c"/><stop offset="1" stop-color="#9c9c9c" stop-opacity="0"/></radialGradient><radialGradient id="g1_7"><stop offset="0" stop-color="#bcbcbc"/><stop offset="0.5" stop-color="#bcbcbc"/><stop offset="1" stop-color="#bcbcbc" stop-opacity="0"/></radialGradient><radialGradient id="g1_8"><stop offset="0" stop-color="#dedede"/><stop offset="0.45" stop-color="#dedede"/><stop offset="1" stop-color="#dedede" stop-opacity="0"/></radialGradient><radialGradient id="g1_9"><stop offset="0" stop-color="#cfcfcf"/><stop offset="0.4" stop-color="#cfcfcf"/><stop offset="1" stop-color="#cfcfcf" stop-opacity="0"/></radialGradient><radialGradient id="g1_10"><stop offset="0" stop-color="#8c8c8c"/><stop offset="0.35" stop-color="#8c8c8c"/><stop offset="1" stop-color="#8c8c8c" stop-opacity="0"/></radialGradient><radialGradient id="g1_11"><stop offset="0" stop-color="#404040"/><stop offset="0.5" stop-color="#404040"/><stop offset="1" stop-color="#404040" stop-opacity="0"/></radialGradient><radialGradient id="g1_12"><stop offset="0" stop-color="#818181"/><stop offset="0.35" stop-color="#818181"/><stop offset="1" stop-color="#818181" stop-opacity="0"/></radialGradient><radialGradient id="g1_13"><stop offset="0" stop-color="#818181"/><stop offset="0.35" stop-color="#818181"/><stop offset="1" stop-color="#818181" stop-opacity="0"/></radialGradient><radialGradient id="g1_14"><stop offset="0" stop-color="#9c9c9c"/><stop offset="0.35" stop-color="#9c9c9c"/><stop offset="1" stop-color="#9c9c9c" stop-opacity="0"/></radialGradient><radialGradient id="g1_15"><stop offset="0" stop-color="#262626"/><stop offset="0.35" stop-color="#262626"/><stop offset="1" stop-color="#262626" stop-opacity="0"/></radialGradient><radialGradient id="g1_16"><stop offset="0" stop-color="#292929"/><stop offset="0.35" stop-color="#292929"/><stop offset="1" stop-color="#292929" stop-opacity="0"/></radialGradient><radialGradient id="g1_17"><stop offset="0" stop-color="#3d3d3d"/><stop offset="0.35" stop-color="#3d3d3d"/><stop offset="1" stop-color="#3d3d3d" stop-opacity="0"/></radialGradient><radialGradient id="g1_18"><stop offset="0" stop-color="#080808"/><stop offset="0.35" stop-color="#080808"/><stop offset="1" stop-color="#080808" stop-opacity="0"/></radialGradient><radialGradient id="g1_19"><stop offset="0" stop-color="#414141"/><stop offset="0.45" stop-color="#414141"/><stop offset="1" stop-color="#414141" stop-opacity="0"/></radialGradient><radialGradient id="g1_20"><stop offset="0" stop-color="#818181"/><stop offset="0.5" stop-color="#818181"/><stop offset="1" stop-color="#818181" stop-opacity="0"/></radialGradient><radialGradient id="g1_21"><stop offset="0" stop-color="#c8c8c8"/><stop offset="0.2" stop-color="#c8c8c8"/><stop offset="1" stop-color="#c8c8c8" stop-opacity="0"/></radialGradient><radialGradient id="g1_22"><stop offset="0" stop-color="#343434"/><stop offset="0.35" stop-color="#343434"/><stop offset="1" stop-color="#343434" stop-opacity="0"/></radialGradient><radialGradient id="g1_23"><stop offset="0" stop-color="#080808"/><stop offset="0.6" stop-color="#080808"/><stop offset="1" stop-color="#080808" stop-opacity="0"/></radialGradient><radialGradient id="g1_24"><stop offset="0" stop-color="#080808"/><stop offset="0.35" stop-color="#080808"/><stop offset="1" stop-color="#080808" stop-opacity="0"/></radialGradient><radialGradient id="g1_25"><stop offset="0" stop-color="#080808"/><stop offset="0.35" stop-color="#080808"/><stop offset="1" stop-color="#080808" stop-opacity="0"/></radialGradient><radialGradient id="g1_26"><stop offset="0" stop-color="#464646"/><stop offset="0.35" stop-color="#464646"/><stop offset="1" stop-color="#464646" stop-opacity="0"/></radialGradient><radialGradient id="g1_27"><stop offset="0" stop-color="#818181"/><stop offset="0.35" stop-color="#818181"/><stop offset="1" stop-color="#818181" stop-opacity="0"/></radialGradient><radialGradient id="g1_28"><stop offset="0" stop-color="#464646"/><stop offset="0.35" stop-color="#464646"/><stop offset="1" stop-color="#464646" stop-opacity="0"/></radialGradient><radialGradient id="g1_29"><stop offset="0" stop-color="#3d3d3d"/><stop offset="0.35" stop-color="#3d3d3d"/><stop offset="1" stop-color="#3d3d3d" stop-opacity="0"/></radialGradient><radialGradient id="g1_30"><stop offset="0" stop-color="#262626"/><stop offset="0.35" stop-color="#262626"/><stop offset="1" stop-color="#262626" stop-opacity="0"/></radialGradient><radialGradient id="g1_31"><stop offset="0" stop-color="#3d3d3d"/><stop offset="0.5" stop-color="#3d3d3d"/><stop offset="1" stop-color="#3d3d3d" stop-opacity="0"/></radialGradient><radialGradient id="g1_32"><stop offset="0" stop-color="#4d4d4d"/><stop offset="0.35" stop-color="#4d4d4d"/><stop offset="1" stop-color="#4d4d4d" stop-opacity="0"/></radialGradient><radialGradient id="g1_33"><stop offset="0" stop-color="#4d4d4d"/><stop offset="0.35" stop-color="#4d4d4d"/><stop offset="1" stop-color="#4d4d4d" stop-opacity="0"/></radialGradient><radialGradient id="g1_34"><stop offset="0" stop-color="#4d4d4d"/><stop offset="0.35" stop-color="#4d4d4d"/><stop offset="1" stop-color="#4d4d4d" stop-opacity="0"/></radialGradient><radialGradient id="g1_35"><stop offset="0" stop-color="#818181"/><stop offset="0.35" stop-color="#818181"/><stop offset="1" stop-color="#818181" stop-opacity="0"/></radialGradient><radialGradient id="g1_36"><stop offset="0" stop-color="#313131"/><stop offset="0.35" stop-color="#313131"/><stop offset="1" stop-color="#313131" stop-opacity="0"/></radialGradient><radialGradient id="g1_37"><stop offset="0" stop-color="#464646"/><stop offset="0.5" stop-color="#464646"/><stop offset="1" stop-color="#464646" stop-opacity="0"/></radialGradient><radialGradient id="g1_38"><stop offset="0" stop-color="#7a7a7a"/><stop offset="0.5" stop-color="#7a7a7a"/><stop offset="1" stop-color="#7a7a7a" stop-opacity="0"/></radialGradient><radialGradient id="g1_39"><stop offset="0" stop-color="#cacaca"/><stop offset="0.2" stop-color="#cacaca"/><stop offset="1" stop-color="#cacaca" stop-opacity="0"/></radialGradient><radialGradient id="g1_40"><stop offset="0" stop-color="#818181"/><stop offset="0.35" stop-color="#818181"/><stop offset="1" stop-color="#818181" stop-opacity="0"/></radialGradient><radialGradient id="g1_41"><stop offset="0" stop-color="#0f0f0f"/><stop offset="0.35" stop-color="#0f0f0f"/><stop offset="1" stop-color="#0f0f0f" stop-opacity="0"/></radialGradient><radialGradient id="g1_42"><stop offset="0" stop-color="#343434"/><stop offset="0.6" stop-color="#343434"/><stop offset="1" stop-color="#343434" stop-opacity="0"/></radialGradient><radialGradient id="g1_43"><stop offset="0" stop-color="#2d2d2d"/><stop offset="0.6" stop-color="#2d2d2d"/><stop offset="1" stop-color="#2d2d2d" stop-opacity="0"/></radialGradient><radialGradient id="g1_44"><stop offset="0" stop-color="#2d2d2d"/><stop offset="0.6" stop-color="#2d2d2d"/><stop offset="1" stop-color="#2d2d2d" stop-opacity="0"/></radialGradient><radialGradient id="g1_45"><stop offset="0" stop-color="#3f3f3f"/><stop offset="0.5" stop-color="#3f3f3f"/><stop offset="1" stop-color="#3f3f3f" stop-opacity="0"/></radialGradient><radialGradient id="g1_46"><stop offset="0" stop-color="#7a7a7a"/><stop offset="0.5" stop-color="#7a7a7a"/><stop offset="1" stop-color="#7a7a7a" stop-opacity="0"/></radialGradient><radialGradient id="g1_47"><stop offset="0" stop-color="#acacac"/><stop offset="0.35" stop-color="#acacac"/><stop offset="1" stop-color="#acacac" stop-opacity="0"/></radialGradient><radialGradient id="g1_48"><stop offset="0" stop-color="#343434"/><stop offset="0.5" stop-color="#343434"/><stop offset="1" stop-color="#343434" stop-opacity="0"/></radialGradient><radialGradient id="g1_49"><stop offset="0" stop-color="#7a7a7a"/><stop offset="0.4" stop-color="#7a7a7a"/><stop offset="1" stop-color="#7a7a7a" stop-opacity="0"/></radialGradient><radialGradient id="g1_50"><stop offset="0" stop-color="#2d2d2d"/><stop offset="0.5" stop-color="#2d2d2d"/><stop offset="1" stop-color="#2d2d2d" stop-opacity="0"/></radialGradient><radialGradient id="g1_51"><stop offset="0" stop-color="#373737"/><stop offset="0.35" stop-color="#373737"/><stop offset="1" stop-color="#373737" stop-opacity="0"/></radialGradient><radialGradient id="g1_52"><stop offset="0" stop-color="#373737"/><stop offset="0.35" stop-color="#373737"/><stop offset="1" stop-color="#373737" stop-opacity="0"/></radialGradient></defs>
<g clip-path="url(#clipPoly)">
<g filter="url(#cmap)">
<rect x="-10" y="0" width="520" height="330" fill="#0c0c0c"/>
<g filter="url(#blur8)">
<polygon points="-5,160 105,148 152,144 142,172 125,185 -5,200" fill="#818181"/>
</g>
<g filter="url(#blur5)">
<polygon points="-5,160 105,148 120,172 108,198 112,235 122,262 90,280 -5,297" fill="#818181"/>
<polygon points="110,186 160,174 162,222 136,246 114,240" fill="#454545"/>
</g>
<g filter="url(#blur6)">
<polygon points="150,150 230,136 300,126 312,160 332,192 300,217 262,250 150,262" fill="#161616"/>
</g>
<g filter="url(#blur5)">
<polygon points="192,146 260,126 330,90 400,48 480,12 470,40 420,75 370,100 345,118 310,128 300,160 280,168 290,135 230,135 215,190 197,190" fill="#080808"/>
</g>
<g filter="url(#blur2_5)">
<polygon points="336.7,188 350,178 360,168 371,158 380,153 393,145 410,129 421,120.5 438,106 433,99 416,113 405,122 388,138 375,146 366,151 355,161 345,171 332,181" fill="#4c4c4c"/>
</g>
<g filter="url(#blur3)">
<polygon points="125,250 200,252 240,246 275,231 287,238 250,263 200,274 125,274" fill="#1b1b1b"/>
</g>
<ellipse cx="30" cy="178" rx="40" ry="18" fill="url(#g1_0)"/>
<ellipse cx="75" cy="168" rx="44" ry="14" fill="url(#g1_1)"/>
<ellipse cx="73" cy="205" rx="32" ry="36" fill="url(#g1_2)" transform="rotate(-30 73 205)"/>
<ellipse cx="73.5" cy="204.5" rx="17" ry="21" fill="url(#g1_3)" transform="rotate(-30 73.5 204.5)"/>
<ellipse cx="73.5" cy="204.5" rx="12" ry="15" fill="url(#g1_4)" transform="rotate(-30 73.5 204.5)"/>
<ellipse cx="73.5" cy="204.5" rx="7" ry="9.5" fill="url(#g1_5)" transform="rotate(-30 73.5 204.5)"/>
<ellipse cx="58" cy="231" rx="18" ry="10" fill="url(#g1_6)"/>
<ellipse cx="88" cy="237" rx="20" ry="23" fill="url(#g1_7)" transform="rotate(10 88 237)"/>
<ellipse cx="85" cy="240" rx="10" ry="16" fill="url(#g1_8)" transform="rotate(15 85 240)"/>
<ellipse cx="97" cy="230" rx="11" ry="6" fill="url(#g1_9)" transform="rotate(-30 97 230)"/>
<ellipse cx="30" cy="250" rx="16" ry="12" fill="url(#g1_10)"/>
<ellipse cx="130" cy="203" rx="28" ry="17" fill="url(#g1_11)" transform="rotate(-10 130 203)"/>
<ellipse cx="134.7" cy="222.5" rx="4" ry="8" fill="url(#g1_12)"/>
<ellipse cx="128.5" cy="238.7" rx="5" ry="6" fill="url(#g1_13)"/>
<ellipse cx="113.5" cy="236" rx="3" ry="3" fill="url(#g1_14)"/>
<ellipse cx="172" cy="160" rx="16" ry="18" fill="url(#g1_15)"/>
<ellipse cx="176" cy="175" rx="16" ry="28" fill="url(#g1_16)"/>
<ellipse cx="178.5" cy="215" rx="5" ry="5" fill="url(#g1_17)"/>
<ellipse cx="181" cy="190" rx="5" ry="10" fill="url(#g1_18)"/>
<ellipse cx="258" cy="162" rx="42" ry="36" fill="url(#g1_19)"/>
<ellipse cx="260.6" cy="160" rx="20" ry="20" fill="url(#g1_20)"/>
<ellipse cx="260.6" cy="159.5" rx="10" ry="10" fill="url(#g1_21)"/>
<ellipse cx="222" cy="160" rx="14" ry="18" fill="url(#g1_22)"/>
<ellipse cx="243" cy="186" rx="30" ry="9" fill="url(#g1_23)" transform="rotate(-5 243 186)"/>
<ellipse cx="200" cy="178" rx="13" ry="13" fill="url(#g1_24)"/>
<ellipse cx="235" cy="224" rx="24" ry="22" fill="url(#g1_25)"/>
<ellipse cx="198" cy="196" rx="8" ry="6" fill="url(#g1_26)" transform="rotate(-40 198 196)"/>
<ellipse cx="200.5" cy="193" rx="3" ry="4" fill="url(#g1_27)" transform="rotate(-40 200.5 193)"/>
<ellipse cx="188.5" cy="205" rx="6" ry="5" fill="url(#g1_28)"/>
<ellipse cx="179.5" cy="215.6" rx="6" ry="6" fill="url(#g1_29)"/>
<ellipse cx="215" cy="215" rx="10" ry="11" fill="url(#g1_30)"/>
<ellipse cx="270" cy="211" rx="25" ry="20" fill="url(#g1_31)"/>
<ellipse cx="263.6" cy="211" rx="6" ry="6" fill="url(#g1_32)"/>
<ellipse cx="281.6" cy="200.6" rx="7" ry="7" fill="url(#g1_33)"/>
<ellipse cx="302" cy="197" rx="7" ry="7" fill="url(#g1_34)"/>
<ellipse cx="302.6" cy="196" rx="3.5" ry="3.5" fill="url(#g1_35)"/>
<ellipse cx="223" cy="241" rx="9" ry="8" fill="url(#g1_36)"/>
<ellipse cx="334" cy="160" rx="26" ry="34" fill="url(#g1_37)" transform="rotate(25 334 160)"/>
<ellipse cx="340" cy="154" rx="13" ry="20" fill="url(#g1_38)" transform="rotate(15 340 154)"/>
<ellipse cx="343" cy="146.5" rx="6" ry="6" fill="url(#g1_39)"/>
<ellipse cx="326.6" cy="167.6" rx="5" ry="8" fill="url(#g1_40)"/>
<ellipse cx="354" cy="147" rx="3" ry="3" fill="url(#g1_41)"/>
<ellipse cx="368" cy="134" rx="30" ry="12" fill="url(#g1_42)" transform="rotate(-37 368 134)"/>
<ellipse cx="425" cy="98" rx="26" ry="8" fill="url(#g1_43)" transform="rotate(-40 425 98)"/>
<ellipse cx="390" cy="113" rx="42" ry="21" fill="url(#g1_44)" transform="rotate(-35 390 113)"/>
<ellipse cx="391" cy="116" rx="35" ry="16" fill="url(#g1_45)" transform="rotate(-35 391 116)"/>
<ellipse cx="388" cy="123" rx="16" ry="8" fill="url(#g1_46)" transform="rotate(-40 388 123)"/>
<ellipse cx="391.6" cy="120" rx="4" ry="3" fill="url(#g1_47)" transform="rotate(-40 391.6 120)"/>
<ellipse cx="456" cy="75" rx="26" ry="8" fill="url(#g1_48)" transform="rotate(-42 456 75)"/>
<ellipse cx="459" cy="72" rx="16" ry="3.5" fill="url(#g1_49)" transform="rotate(-42 459 72)"/>
<ellipse cx="474" cy="38" rx="12" ry="22" fill="url(#g1_50)" transform="rotate(25 474 38)"/>
<ellipse cx="469.6" cy="45" rx="5" ry="5" fill="url(#g1_51)"/>
<ellipse cx="478.6" cy="28.5" rx="5" ry="6" fill="url(#g1_52)"/>
</g>
<g font-size="5.3" fill="#0a0a0a" fill-opacity="0.9" text-anchor="middle">
<text transform="translate(32.5 165) rotate(25)" y="1.8">18</text>
<text transform="translate(16.3 186) rotate(25)" y="1.8">14</text>
<text transform="translate(47.5 198.8) rotate(-60)" y="1.8">18</text>
<text transform="translate(50 222.5) rotate(-20)" y="1.8">16</text>
<text transform="translate(45 248) rotate(0)" y="1.8">16</text>
<text transform="translate(82.5 178.8) rotate(-60)" y="1.8">20</text>
<text transform="translate(90 186) rotate(-60)" y="1.8">18</text>
<text transform="translate(85 193.8) rotate(-60)" y="1.8">24</text>
<text transform="translate(72.5 211) rotate(-30)" y="1.8">20</text>
<text transform="translate(90.8 220) rotate(-20)" y="1.8">22</text>
<text transform="translate(71.3 223.8) rotate(80)" y="1.8">19</text>
<text transform="translate(103.8 226) rotate(-60)" y="1.8">20</text>
<text transform="translate(95 238.8) rotate(-40)" y="1.8">16</text>
<text transform="translate(103.8 243.8) rotate(-40)" y="1.8">10</text>
<text transform="translate(81.3 243.8) rotate(-30)" y="1.8">22</text>
<text transform="translate(106.3 210) rotate(-50)" y="1.8">14</text>
<text transform="translate(113.8 216) rotate(-70)" y="1.8">12</text>
<text transform="translate(123.8 177.5) rotate(-40)" y="1.8">12</text>
<text transform="translate(121.3 186) rotate(-40)" y="1.8">10</text>
<text transform="translate(133.8 186) rotate(-30)" y="1.8">8</text>
<text transform="translate(137.5 163.8) rotate(-60)" y="1.8">14</text>
<text transform="translate(155.8 196) rotate(-70)" y="1.8">6</text>
<text transform="translate(165.8 192.5) rotate(-70)" y="1.8">4</text>
<text transform="translate(147.5 206) rotate(-70)" y="1.8">8</text>
<text transform="translate(144.3 227.5) rotate(-70)" y="1.8">10</text>
<text transform="translate(138.8 223.8) rotate(-70)" y="1.8">12</text>
<text transform="translate(125 247.5) rotate(0)" y="1.8">8</text>
<text transform="translate(142.5 246) rotate(0)" y="1.8">6</text>
<text transform="translate(195 152.5) rotate(0)" y="1.8">4</text>
<text transform="translate(282 130) rotate(0)" y="1.8">8</text>
<text transform="translate(292.4 152.5) rotate(0)" y="1.8">6</text>
<text transform="translate(303 166) rotate(0)" y="1.8">4</text>
<text transform="translate(319.5 146.5) rotate(0)" y="1.8">6</text>
<text transform="translate(221.9 218.6) rotate(0)" y="1.8">4</text>
<text transform="translate(264 199) rotate(0)" y="1.8">4</text>
<text transform="translate(265.4 206.6) rotate(0)" y="1.8">6</text>
<text transform="translate(273 220) rotate(0)" y="1.8">6</text>
<text transform="translate(267 226) rotate(0)" y="1.8">4</text>
<text transform="translate(236.9 184) rotate(0)" y="1.8">2</text>
<text transform="translate(211.4 194.6) rotate(0)" y="1.8">4</text>
<text transform="translate(199.4 200.6) rotate(0)" y="1.8">6</text>
<text transform="translate(178.3 209.6) rotate(0)" y="1.8">5</text>
<text transform="translate(319.5 184) rotate(0)" y="1.8">6</text>
<text transform="translate(345 119.5) rotate(0)" y="1.8">2</text>
<text transform="translate(349.5 128.5) rotate(0)" y="1.8">4</text>
<text transform="translate(363.4 127.6) rotate(0)" y="1.8">6</text>
<text transform="translate(402.4 105) rotate(-40)" y="1.8">8</text>
<text transform="translate(385.9 112.6) rotate(-40)" y="1.8">10</text>
<text transform="translate(401.8 94.6) rotate(0)" y="1.8">6</text>
<text transform="translate(377.5 96) rotate(0)" y="1.8">4</text>
<text transform="translate(370 96) rotate(0)" y="1.8">2</text>
<text transform="translate(425 96) rotate(0)" y="1.8">4</text>
<text transform="translate(410 79.6) rotate(0)" y="1.8">2</text>
<text transform="translate(443 88.6) rotate(-40)" y="1.8">8</text>
<text transform="translate(450.5 70.6) rotate(0)" y="1.8">2</text>
<text transform="translate(474.5 55.6) rotate(0)" y="1.8">4</text>
<text transform="translate(479 39) rotate(0)" y="1.8">4</text>
<text transform="translate(477.5 19.5) rotate(0)" y="1.8">2</text>
<text transform="translate(346.8 168) rotate(0)" y="1.8">10</text>
</g>
</g>
<use href="#baseOver"/>
</g>
</g>
<rect x="502.5" y="6" width="497" height="311" fill="none" stroke="#333" stroke-width="1.4"/>
<text x="511.3" y="25.7" textLength="116" lengthAdjust="spacingAndGlyphs" font-family="Liberation Sans, sans-serif" font-weight="bold" font-size="17.6" fill="#3d55b6" stroke="#3d55b6" stroke-width="0.35">EGFD Upper</text>
<rect x="511.3" y="27.9" width="116" height="1.4" fill="#1a1a78"/>
<g clip-path="url(#frame2)">
<rect x="268.9" y="287" width="488.4" height="310.8" fill="#fff"/>
<g transform="translate(266.6 281.5) scale(0.984)">
<use href="#baseUnder"/>
<defs><radialGradient id="g2_0"><stop offset="0" stop-color="#525252"/><stop offset="0.5" stop-color="#525252"/><stop offset="1" stop-color="#525252" stop-opacity="0"/></radialGradient><radialGradient id="g2_1"><stop offset="0" stop-color="#404040"/><stop offset="0.5" stop-color="#404040"/><stop offset="1" stop-color="#404040" stop-opacity="0"/></radialGradient><radialGradient id="g2_2"><stop offset="0" stop-color="#141414"/><stop offset="0.5" stop-color="#141414"/><stop offset="1" stop-color="#141414" stop-opacity="0"/></radialGradient><radialGradient id="g2_3"><stop offset="0" stop-color="#606060"/><stop offset="0.5" stop-color="#606060"/><stop offset="1" stop-color="#606060" stop-opacity="0"/></radialGradient><radialGradient id="g2_4"><stop offset="0" stop-color="#d3d3d3"/><stop offset="0.15" stop-color="#d3d3d3"/><stop offset="1" stop-color="#d3d3d3" stop-opacity="0"/></radialGradient><radialGradient id="g2_5"><stop offset="0" stop-color="#9e9e9e"/><stop offset="0.4" stop-color="#9e9e9e"/><stop offset="1" stop-color="#9e9e9e" stop-opacity="0"/></radialGradient><radialGradient id="g2_6"><stop offset="0" stop-color="#acacac"/><stop offset="0.4" stop-color="#acacac"/><stop offset="1" stop-color="#acacac" stop-opacity="0"/></radialGradient><radialGradient id="g2_7"><stop offset="0" stop-color="#8c8c8c"/><stop offset="0.35" stop-color="#8c8c8c"/><stop offset="1" stop-color="#8c8c8c" stop-opacity="0"/></radialGradient><radialGradient id="g2_8"><stop offset="0" stop-color="#7a7a7a"/><stop offset="0.5" stop-color="#7a7a7a"/><stop offset="1" stop-color="#7a7a7a" stop-opacity="0"/></radialGradient><radialGradient id="g2_9"><stop offset="0" stop-color="#a5a5a5"/><stop offset="0.5" stop-color="#a5a5a5"/><stop offset="1" stop-color="#a5a5a5" stop-opacity="0"/></radialGradient><radialGradient id="g2_10"><stop offset="0" stop-color="#acacac"/><stop offset="0.4" stop-color="#acacac"/><stop offset="1" stop-color="#acacac" stop-opacity="0"/></radialGradient><radialGradient id="g2_11"><stop offset="0" stop-color="#cdcdcd"/><stop offset="0.5" stop-color="#cdcdcd"/><stop offset="1" stop-color="#cdcdcd" stop-opacity="0"/></radialGradient><radialGradient id="g2_12"><stop offset="0" stop-color="#dcdcdc"/><stop offset="0.5" stop-color="#dcdcdc"/><stop offset="1" stop-color="#dcdcdc" stop-opacity="0"/></radialGradient><radialGradient id="g2_13"><stop offset="0" stop-color="#c0c0c0"/><stop offset="0.45" stop-color="#c0c0c0"/><stop offset="1" stop-color="#c0c0c0" stop-opacity="0"/></radialGradient><radialGradient id="g2_14"><stop offset="0" stop-color="#ebebeb"/><stop offset="0.5" stop-color="#ebebeb"/><stop offset="1" stop-color="#ebebeb" stop-opacity="0"/></radialGradient><radialGradient id="g2_15"><stop offset="0" stop-color="#dcdcdc"/><stop offset="0.4" stop-color="#dcdcdc"/><stop offset="1" stop-color="#dcdcdc" stop-opacity="0"/></radialGradient><radialGradient id="g2_16"><stop offset="0" stop-color="#cacaca"/><stop offset="0.4" stop-color="#cacaca"/><stop offset="1" stop-color="#cacaca" stop-opacity="0"/></radialGradient><radialGradient id="g2_17"><stop offset="0" stop-color="#7a7a7a"/><stop offset="0.5" stop-color="#7a7a7a"/><stop offset="1" stop-color="#7a7a7a" stop-opacity="0"/></radialGradient><radialGradient id="g2_18"><stop offset="0" stop-color="#626262"/><stop offset="0.65" stop-color="#626262"/><stop offset="1" stop-color="#626262" stop-opacity="0"/></radialGradient><radialGradient id="g2_19"><stop offset="0" stop-color="#525252"/><stop offset="0.5" stop-color="#525252"/><stop offset="1" stop-color="#525252" stop-opacity="0"/></radialGradient><radialGradient id="g2_20"><stop offset="0" stop-color="#606060"/><stop offset="0.5" stop-color="#606060"/><stop offset="1" stop-color="#606060" stop-opacity="0"/></radialGradient><radialGradient id="g2_21"><stop offset="0" stop-color="#464646"/><stop offset="0.45" stop-color="#464646"/><stop offset="1" stop-color="#464646" stop-opacity="0"/></radialGradient><radialGradient id="g2_22"><stop offset="0" stop-color="#464646"/><stop offset="0.5" stop-color="#464646"/><stop offset="1" stop-color="#464646" stop-opacity="0"/></radialGradient><radialGradient id="g2_23"><stop offset="0" stop-color="#9c9c9c"/><stop offset="0.4" stop-color="#9c9c9c"/><stop offset="1" stop-color="#9c9c9c" stop-opacity="0"/></radialGradient><radialGradient id="g2_24"><stop offset="0" stop-color="#c0c0c0"/><stop offset="0.4" stop-color="#c0c0c0"/><stop offset="1" stop-color="#c0c0c0" stop-opacity="0"/></radialGradient><radialGradient id="g2_25"><stop offset="0" stop-color="#a4a4a4"/><stop offset="0.35" stop-color="#a4a4a4"/><stop offset="1" stop-color="#a4a4a4" stop-opacity="0"/></radialGradient><radialGradient id="g2_26"><stop offset="0" stop-color="#9c9c9c"/><stop offset="0.4" stop-color="#9c9c9c"/><stop offset="1" stop-color="#9c9c9c" stop-opacity="0"/></radialGradient><radialGradient id="g2_27"><stop offset="0" stop-color="#343434"/><stop offset="0.3" stop-color="#343434"/><stop offset="1" stop-color="#343434" stop-opacity="0"/></radialGradient><radialGradient id="g2_28"><stop offset="0" stop-color="#707070"/><stop offset="0.5" stop-color="#707070"/><stop offset="1" stop-color="#707070" stop-opacity="0"/></radialGradient><radialGradient id="g2_29"><stop offset="0" stop-color="#636363"/><stop offset="0.35" stop-color="#636363"/><stop offset="1" stop-color="#636363" stop-opacity="0"/></radialGradient><radialGradient id="g2_30"><stop offset="0" stop-color="#545454"/><stop offset="0.5" stop-color="#545454"/><stop offset="1" stop-color="#545454" stop-opacity="0"/></radialGradient><radialGradient id="g2_31"><stop offset="0" stop-color="#464646"/><stop offset="0.35" stop-color="#464646"/><stop offset="1" stop-color="#464646" stop-opacity="0"/></radialGradient><radialGradient id="g2_32"><stop offset="0" stop-color="#a4a4a4"/><stop offset="0.45" stop-color="#a4a4a4"/><stop offset="1" stop-color="#a4a4a4" stop-opacity="0"/></radialGradient><radialGradient id="g2_33"><stop offset="0" stop-color="#b4b4b4"/><stop offset="0.45" stop-color="#b4b4b4"/><stop offset="1" stop-color="#b4b4b4" stop-opacity="0"/></radialGradient><radialGradient id="g2_34"><stop offset="0" stop-color="#c0c0c0"/><stop offset="0.45" stop-color="#c0c0c0"/><stop offset="1" stop-color="#c0c0c0" stop-opacity="0"/></radialGradient><radialGradient id="g2_35"><stop offset="0" stop-color="#a4a4a4"/><stop offset="0.4" stop-color="#a4a4a4"/><stop offset="1" stop-color="#a4a4a4" stop-opacity="0"/></radialGradient><radialGradient id="g2_36"><stop offset="0" stop-color="#a2a2a2"/><stop offset="0.4" stop-color="#a2a2a2"/><stop offset="1" stop-color="#a2a2a2" stop-opacity="0"/></radialGradient><radialGradient id="g2_37"><stop offset="0" stop-color="#acacac"/><stop offset="0.35" stop-color="#acacac"/><stop offset="1" stop-color="#acacac" stop-opacity="0"/></radialGradient><radialGradient id="g2_38"><stop offset="0" stop-color="#acacac"/><stop offset="0.35" stop-color="#acacac"/><stop offset="1" stop-color="#acacac" stop-opacity="0"/></radialGradient><radialGradient id="g2_39"><stop offset="0" stop-color="#424242"/><stop offset="0.35" stop-color="#424242"/><stop offset="1" stop-color="#424242" stop-opacity="0"/></radialGradient><radialGradient id="g2_40"><stop offset="0" stop-color="#acacac"/><stop offset="0.35" stop-color="#acacac"/><stop offset="1" stop-color="#acacac" stop-opacity="0"/></radialGradient><radialGradient id="g2_41"><stop offset="0" stop-color="#acacac"/><stop offset="0.35" stop-color="#acacac"/><stop offset="1" stop-color="#acacac" stop-opacity="0"/></radialGradient><radialGradient id="g2_42"><stop offset="0" stop-color="#848484"/><stop offset="0.5" stop-color="#848484"/><stop offset="1" stop-color="#848484" stop-opacity="0"/></radialGradient><radialGradient id="g2_43"><stop offset="0" stop-color="#959595"/><stop offset="0.35" stop-color="#959595"/><stop offset="1" stop-color="#959595" stop-opacity="0"/></radialGradient><radialGradient id="g2_44"><stop offset="0" stop-color="#9c9c9c"/><stop offset="0.45" stop-color="#9c9c9c"/><stop offset="1" stop-color="#9c9c9c" stop-opacity="0"/></radialGradient><radialGradient id="g2_45"><stop offset="0" stop-color="#c0c0c0"/><stop offset="0.45" stop-color="#c0c0c0"/><stop offset="1" stop-color="#c0c0c0" stop-opacity="0"/></radialGradient><radialGradient id="g2_46"><stop offset="0" stop-color="#dedede"/><stop offset="0.5" stop-color="#dedede"/><stop offset="1" stop-color="#dedede" stop-opacity="0"/></radialGradient><radialGradient id="g2_47"><stop offset="0" stop-color="#343434"/><stop offset="0.5" stop-color="#343434"/><stop offset="1" stop-color="#343434" stop-opacity="0"/></radialGradient><radialGradient id="g2_48"><stop offset="0" stop-color="#9c9c9c"/><stop offset="0.4" stop-color="#9c9c9c"/><stop offset="1" stop-color="#9c9c9c" stop-opacity="0"/></radialGradient><radialGradient id="g2_49"><stop offset="0" stop-color="#b9b9b9"/><stop offset="0.4" stop-color="#b9b9b9"/><stop offset="1" stop-color="#b9b9b9" stop-opacity="0"/></radialGradient><radialGradient id="g2_50"><stop offset="0" stop-color="#979797"/><stop offset="0.4" stop-color="#979797"/><stop offset="1" stop-color="#979797" stop-opacity="0"/></radialGradient><radialGradient id="g2_51"><stop offset="0" stop-color="#9c9c9c"/><stop offset="0.4" stop-color="#9c9c9c"/><stop offset="1" stop-color="#9c9c9c" stop-opacity="0"/></radialGradient><radialGradient id="g2_52"><stop offset="0" stop-color="#c0c0c0"/><stop offset="0.4" stop-color="#c0c0c0"/><stop offset="1" stop-color="#c0c0c0" stop-opacity="0"/></radialGradient><radialGradient id="g2_53"><stop offset="0" stop-color="#080808"/><stop offset="0.6" stop-color="#080808"/><stop offset="1" stop-color="#080808" stop-opacity="0"/></radialGradient><radialGradient id="g2_54"><stop offset="0" stop-color="#999999"/><stop offset="0.5" stop-color="#999999"/><stop offset="1" stop-color="#999999" stop-opacity="0"/></radialGradient><radialGradient id="g2_55"><stop offset="0" stop-color="#818181"/><stop offset="0.6" stop-color="#818181"/><stop offset="1" stop-color="#818181" stop-opacity="0"/></radialGradient><radialGradient id="g2_56"><stop offset="0" stop-color="#a1a1a1"/><stop offset="0.5" stop-color="#a1a1a1"/><stop offset="1" stop-color="#a1a1a1" stop-opacity="0"/></radialGradient><radialGradient id="g2_57"><stop offset="0" stop-color="#b3b3b3"/><stop offset="0.5" stop-color="#b3b3b3"/><stop offset="1" stop-color="#b3b3b3" stop-opacity="0"/></radialGradient><radialGradient id="g2_58"><stop offset="0" stop-color="#c2c2c2"/><stop offset="0.5" stop-color="#c2c2c2"/><stop offset="1" stop-color="#c2c2c2" stop-opacity="0"/></radialGradient><radialGradient id="g2_59"><stop offset="0" stop-color="#cfcfcf"/><stop offset="0.5" stop-color="#cfcfcf"/><stop offset="1" stop-color="#cfcfcf" stop-opacity="0"/></radialGradient><radialGradient id="g2_60"><stop offset="0" stop-color="#9c9c9c"/><stop offset="0.5" stop-color="#9c9c9c"/><stop offset="1" stop-color="#9c9c9c" stop-opacity="0"/></radialGradient><radialGradient id="g2_61"><stop offset="0" stop-color="#b1b1b1"/><stop offset="0.5" stop-color="#b1b1b1"/><stop offset="1" stop-color="#b1b1b1" stop-opacity="0"/></radialGradient><radialGradient id="g2_62"><stop offset="0" stop-color="#c4c4c4"/><stop offset="0.35" stop-color="#c4c4c4"/><stop offset="1" stop-color="#c4c4c4" stop-opacity="0"/></radialGradient><radialGradient id="g2_63"><stop offset="0" stop-color="#7e7e7e"/><stop offset="0.5" stop-color="#7e7e7e"/><stop offset="1" stop-color="#7e7e7e" stop-opacity="0"/></radialGradient><radialGradient id="g2_64"><stop offset="0" stop-color="#959595"/><stop offset="0.5" stop-color="#959595"/><stop offset="1" stop-color="#959595" stop-opacity="0"/></radialGradient><radialGradient id="g2_65"><stop offset="0" stop-color="#0f0f0f"/><stop offset="0.5" stop-color="#0f0f0f"/><stop offset="1" stop-color="#0f0f0f" stop-opacity="0"/></radialGradient></defs>
<g clip-path="url(#clipPoly)">
<g filter="url(#cmap)">
<rect x="-10" y="0" width="520" height="330" fill="#7e7e7e"/>
<g filter="url(#blur5)">
<polygon points="160,140 300,104 314,130 292,166 262,174 215,174 185,190 160,190" fill="#6f6f6f"/>
</g>
<g filter="url(#blur4)">
<polygon points="325,195 345,180 370,156 393,143 421,118.5 443,99 462,82 450,70 430,85 405,100 392,118 370,128 352,135 335,155 318,175" fill="#969696"/>
</g>
<g filter="url(#blur3)">
<polygon points="259.7,127.7 263.7,151 270,171.5 286,175.5 306.5,171.5 322.8,167.4 326,157 328,141 331,126.7 341,120.5 357.4,116.5 369.7,118.5 377.8,112.4 382,102 389,98 398.4,85 410.7,76 423,74.4 432,66.7 441.3,57.5 447.4,48.3 453.5,39 458,30 466,26 480,30 500,34 505,10 500,0 455,6 440,10 400,35 360,62 320,86 280,108 250,122" fill="#606060"/>
<polygon points="265,125.6 270,146 276,163.5 291,167 311.5,163 323.3,158 325.4,148 328,134 334,122.5 347,117 361.5,115.4 371,114 376.8,106 379.5,99.6 389.2,90 398.4,77.5 412,72 424.5,67.5 433.5,59 442,49 448,40 452.7,31 456,27 468,22 492,22 505,20 500,0 455,6 440,10 400,35 360,62 320,86 280,108 256,120" fill="#4c4c4c"/>
<polygon points="270.9,123.6 276,141 282,155.2 296.3,158.2 316.7,154 323.8,149 324.8,138.9 327.9,127.7 337,118.5 353.4,113.4 365.6,114.4 372.7,109.3 375.8,100 377,97.3 389.3,82 398.4,69.8 413.7,68.2 426,60.6 435,51.4 442.8,40.7 449,31.5 452,24 455,6 440,10 400,35 360,62 320,86 280,108 262,116" fill="#3b3b3b"/>
<polygon points="276.5,120 281,135 289,143 306,144.5 320.5,139 324.8,129.5 332.5,121 345,116 359.5,112 365.6,112.4 371.2,105.5 373.7,96 375.5,94 386,78 398.4,66.7 413.7,65 424.5,57.5 435,46.8 443.6,36 448.2,28.5 455,6 440,10 400,35 360,62 320,86 280,108 268,114" fill="#2a2a2a"/>
<polygon points="282,116.5 286,128.7 296.3,130.7 316.7,123.6 324.8,120.5 337,114.4 353.4,110.4 365.6,110.4 369.7,102 371.7,92 374,91.2 383,74.4 398.4,63.6 413.7,62 423,54.5 435,42.2 444.4,31.5 447.4,25.4 450,8 440,10 400,35 360,62 320,86 280,108 274,112" fill="#161616"/>
</g>
<g filter="url(#blur2_5)">
<polygon points="303.5,108.3 316.7,112.4 337,110.4 355.4,108.3 357.4,100 357.4,94 373.7,79.8 388,61.5 408.3,55.4 420,58 424,46 420,38 410,30 400,36 360,62 320,86 296,102" fill="#080808"/>
</g>
<g filter="url(#blur3)">
<polygon points="463,24 505,20 505,40 482,68 468,80 458,72 463,50" fill="#2f2f2f"/>
<polygon points="474,26 505,22 505,40 484,66 472,76 468,60 472,44" fill="#191919"/>
</g>
<ellipse cx="466" cy="21" rx="10" ry="7" fill="url(#g2_0)" transform="rotate(-10 466 21)"/>
<ellipse cx="467" cy="35" rx="5" ry="12" fill="url(#g2_1)" transform="rotate(-5 467 35)"/>
<ellipse cx="432" cy="36" rx="12" ry="9" fill="url(#g2_2)" transform="rotate(-30 432 36)"/>
<ellipse cx="16" cy="206" rx="22" ry="18" fill="url(#g2_3)" transform="rotate(-20 16 206)"/>
<ellipse cx="92" cy="168" rx="82" ry="60" fill="url(#g2_4)"/>
<ellipse cx="20" cy="246" rx="27" ry="24" fill="url(#g2_5)"/>
<ellipse cx="14" cy="239" rx="9" ry="8" fill="url(#g2_6)"/>
<ellipse cx="12" cy="272" rx="14" ry="16" fill="url(#g2_7)"/>
<ellipse cx="45" cy="232.6" rx="9" ry="9" fill="url(#g2_8)"/>
<ellipse cx="66" cy="208" rx="17" ry="28" fill="url(#g2_9)"/>
<ellipse cx="65" cy="225" rx="12" ry="13" fill="url(#g2_10)"/>
<ellipse cx="93" cy="170" rx="17" ry="21" fill="url(#g2_11)" transform="rotate(-30 93 170)"/>
<ellipse cx="93.2" cy="170.2" rx="12" ry="16" fill="url(#g2_12)" transform="rotate(-30 93.2 170.2)"/>
<ellipse cx="84" cy="240" rx="34" ry="22" fill="url(#g2_13)" transform="rotate(-25 84 240)"/>
<ellipse cx="88" cy="242.7" rx="13" ry="8" fill="url(#g2_14)" transform="rotate(-30 88 242.7)"/>
<ellipse cx="103.3" cy="228.7" rx="5" ry="5" fill="url(#g2_15)"/>
<ellipse cx="62.6" cy="249" rx="5" ry="4" fill="url(#g2_16)"/>
<ellipse cx="113.5" cy="237.7" rx="8" ry="10" fill="url(#g2_17)"/>
<ellipse cx="160" cy="190" rx="36" ry="32" fill="url(#g2_18)"/>
<ellipse cx="160" cy="172" rx="28" ry="16" fill="url(#g2_19)"/>
<ellipse cx="124" cy="202" rx="20" ry="13" fill="url(#g2_20)" transform="rotate(-20 124 202)"/>
<ellipse cx="123.7" cy="202" rx="10" ry="6.5" fill="url(#g2_21)" transform="rotate(-20 123.7 202)"/>
<ellipse cx="178" cy="190" rx="6" ry="9" fill="url(#g2_22)"/>
<ellipse cx="191" cy="210" rx="9" ry="9" fill="url(#g2_23)"/>
<ellipse cx="191" cy="210" rx="4" ry="4" fill="url(#g2_24)"/>
<ellipse cx="202.6" cy="193.5" rx="4" ry="4" fill="url(#g2_25)"/>
<ellipse cx="131" cy="230" rx="11" ry="7" fill="url(#g2_26)"/>
<ellipse cx="88" cy="270" rx="9" ry="7" fill="url(#g2_27)" transform="rotate(-30 88 270)"/>
<ellipse cx="176" cy="240" rx="26" ry="22" fill="url(#g2_28)"/>
<ellipse cx="195" cy="232" rx="10" ry="12" fill="url(#g2_29)"/>
<ellipse cx="236" cy="190" rx="21" ry="13" fill="url(#g2_30)" transform="rotate(-10 236 190)"/>
<ellipse cx="223" cy="191" rx="6" ry="5" fill="url(#g2_31)"/>
<ellipse cx="222" cy="234" rx="28" ry="26" fill="url(#g2_32)" transform="rotate(-30 222 234)"/>
<ellipse cx="224.4" cy="236" rx="15" ry="16" fill="url(#g2_33)" transform="rotate(-30 224.4 236)"/>
<ellipse cx="224.5" cy="236.5" rx="8" ry="11" fill="url(#g2_34)" transform="rotate(-30 224.5 236.5)"/>
<ellipse cx="259.5" cy="213" rx="8" ry="15" fill="url(#g2_35)"/>
<ellipse cx="289" cy="204" rx="6" ry="10" fill="url(#g2_36)"/>
<ellipse cx="300.8" cy="187.6" rx="4" ry="4" fill="url(#g2_37)"/>
<ellipse cx="299.4" cy="185.7" rx="4" ry="4" fill="url(#g2_38)"/>
<ellipse cx="308.5" cy="187.8" rx="4" ry="4" fill="url(#g2_39)"/>
<ellipse cx="284" cy="202" rx="4" ry="4" fill="url(#g2_40)"/>
<ellipse cx="261.7" cy="206" rx="4" ry="4" fill="url(#g2_41)"/>
<ellipse cx="253" cy="161" rx="10" ry="8" fill="url(#g2_42)"/>
<ellipse cx="262" cy="178" rx="8" ry="8" fill="url(#g2_43)"/>
<ellipse cx="343.2" cy="142" rx="11" ry="11" fill="url(#g2_44)"/>
<ellipse cx="343.2" cy="142.2" rx="6" ry="6" fill="url(#g2_45)"/>
<ellipse cx="343.2" cy="142.2" rx="2.8" ry="2.8" fill="url(#g2_46)"/>
<ellipse cx="353.6" cy="147" rx="4.5" ry="4.5" fill="url(#g2_47)"/>
<ellipse cx="333" cy="170.5" rx="10" ry="6" fill="url(#g2_48)" transform="rotate(-40 333 170.5)"/>
<ellipse cx="333" cy="170.5" rx="4.5" ry="4.5" fill="url(#g2_49)"/>
<ellipse cx="388" cy="121" rx="13" ry="12" fill="url(#g2_50)"/>
<ellipse cx="386" cy="134" rx="10" ry="10" fill="url(#g2_51)"/>
<ellipse cx="386" cy="134" rx="4.5" ry="4.5" fill="url(#g2_52)"/>
<ellipse cx="373" cy="114" rx="3.5" ry="3.5" fill="url(#g2_53)"/>
<ellipse cx="360" cy="152" rx="40" ry="9" fill="url(#g2_54)" transform="rotate(-38 360 152)"/>
<ellipse cx="408" cy="100" rx="28" ry="25" fill="url(#g2_55)" transform="rotate(-30 408 100)"/>
<ellipse cx="410" cy="101" rx="23" ry="21" fill="url(#g2_56)" transform="rotate(-25 410 101)"/>
<ellipse cx="414.5" cy="104" rx="15" ry="14" fill="url(#g2_57)" transform="rotate(-20 414.5 104)"/>
<ellipse cx="416.5" cy="105.3" rx="7.5" ry="7.5" fill="url(#g2_58)"/>
<ellipse cx="416.5" cy="105.3" rx="3.3" ry="3.3" fill="url(#g2_59)"/>
<ellipse cx="435.8" cy="79.8" rx="12" ry="8" fill="url(#g2_60)" transform="rotate(-40 435.8 79.8)"/>
<ellipse cx="435.8" cy="79.8" rx="6" ry="4.5" fill="url(#g2_61)" transform="rotate(-40 435.8 79.8)"/>
<ellipse cx="435.8" cy="79.8" rx="3" ry="3" fill="url(#g2_62)"/>
<ellipse cx="455" cy="50" rx="8" ry="13" fill="url(#g2_63)" transform="rotate(10 455 50)"/>
<ellipse cx="455" cy="50" rx="4" ry="7" fill="url(#g2_64)" transform="rotate(10 455 50)"/>
<ellipse cx="445" cy="39" rx="3.5" ry="3.5" fill="url(#g2_65)"/>
</g>
<g font-size="5.3" fill="#0a0a0a" fill-opacity="0.9" text-anchor="middle">
<text transform="translate(23 182.7) rotate(40)" y="1.8">25</text>
<text transform="translate(42 204) rotate(60)" y="1.8">34</text>
<text transform="translate(54.8 189) rotate(60)" y="1.8">24</text>
<text transform="translate(73.8 184) rotate(30)" y="1.8">32</text>
<text transform="translate(94 175) rotate(60)" y="1.8">36</text>
<text transform="translate(71.3 198) rotate(-60)" y="1.8">28</text>
<text transform="translate(51 217) rotate(60)" y="1.8">32</text>
<text transform="translate(84 212) rotate(-60)" y="1.8">24</text>
<text transform="translate(65 215.7) rotate(-60)" y="1.8">28</text>
<text transform="translate(33.2 220.8) rotate(-30)" y="1.8">20</text>
<text transform="translate(24.3 237.3) rotate(20)" y="1.8">28</text>
<text transform="translate(29.4 248.7) rotate(60)" y="1.8">26</text>
<text transform="translate(76.4 238.6) rotate(-60)" y="1.8">32</text>
<text transform="translate(94.2 246) rotate(20)" y="1.8">36</text>
<text transform="translate(99 247) rotate(-30)" y="1.8">32</text>
<text transform="translate(72.6 246) rotate(-30)" y="1.8">28</text>
<text transform="translate(105.6 251) rotate(-30)" y="1.8">24</text>
<text transform="translate(98 210.6) rotate(-50)" y="1.8">20</text>
<text transform="translate(115.8 198) rotate(-40)" y="1.8">16</text>
<text transform="translate(184.3 189) rotate(-70)" y="1.8">12</text>
<text transform="translate(117 212) rotate(-30)" y="1.8">16</text>
<text transform="translate(142.4 225.8) rotate(-30)" y="1.8">20</text>
<text transform="translate(126 223) rotate(-30)" y="1.8">24</text>
<text transform="translate(104.3 175) rotate(-60)" y="1.8">30</text>
<text transform="translate(109 177) rotate(-60)" y="1.8">26</text>
<text transform="translate(120.8 178.8) rotate(-30)" y="1.8">20</text>
<text transform="translate(200 170) rotate(-70)" y="1.8">20</text>
<text transform="translate(212 205) rotate(-30)" y="1.8">24</text>
<text transform="translate(226 193) rotate(0)" y="1.8">12</text>
<text transform="translate(243 180) rotate(0)" y="1.8">16</text>
<text transform="translate(262 196) rotate(-30)" y="1.8">16</text>
<text transform="translate(236 243) rotate(-60)" y="1.8">32</text>
<text transform="translate(222 222) rotate(-40)" y="1.8">28</text>
<text transform="translate(248 236) rotate(-60)" y="1.8">24</text>
<text transform="translate(204 240) rotate(60)" y="1.8">24</text>
<text transform="translate(262 160) rotate(-60)" y="1.8">16</text>
<text transform="translate(283 150) rotate(-60)" y="1.8">12</text>
<text transform="translate(300 139) rotate(-20)" y="1.8">8</text>
<text transform="translate(310 154) rotate(-20)" y="1.8">12</text>
<text transform="translate(287 166) rotate(-20)" y="1.8">16</text>
<text transform="translate(316 178) rotate(0)" y="1.8">16</text>
<text transform="translate(335 162) rotate(-40)" y="1.8">20</text>
<text transform="translate(348 157) rotate(-40)" y="1.8">24</text>
<text transform="translate(363 130) rotate(0)" y="1.8">15</text>
<text transform="translate(370 133) rotate(0)" y="1.8">20</text>
<text transform="translate(383 131) rotate(0)" y="1.8">24</text>
<text transform="translate(392 96) rotate(-50)" y="1.8">12</text>
<text transform="translate(386 104) rotate(-50)" y="1.8">8</text>
<text transform="translate(400 89) rotate(-50)" y="1.8">16</text>
<text transform="translate(414 93) rotate(0)" y="1.8">24</text>
<text transform="translate(412 98) rotate(0)" y="1.8">28</text>
<text transform="translate(443 78) rotate(-40)" y="1.8">24</text>
<text transform="translate(436 72) rotate(-40)" y="1.8">20</text>
<text transform="translate(462 50) rotate(80)" y="1.8">12</text>
<text transform="translate(440 46) rotate(0)" y="1.8">4</text>
<text transform="translate(455 27) rotate(-40)" y="1.8">8</text>
<text transform="translate(478 44) rotate(50)" y="1.8">4</text>
<text transform="translate(350 105) rotate(0)" y="1.8">4</text>
<text transform="translate(330 117) rotate(0)" y="1.8">4</text>
<text transform="translate(314 133) rotate(0)" y="1.8">8</text>
<text transform="translate(425 60) rotate(-40)" y="1.8">4</text>
</g>
</g>
<use href="#baseOver"/>
</g>
</g>
<rect x="268.9" y="287" width="488.4" height="310.8" fill="none" stroke="#333" stroke-width="1.4"/>
<text x="280.3" y="309.5" textLength="117.5" lengthAdjust="spacingAndGlyphs" font-family="Liberation Sans, sans-serif" font-weight="bold" font-size="17.6" fill="#3d55b6" stroke="#3d55b6" stroke-width="0.35">EGFD Lower</text>
<rect x="280.3" y="311.7" width="117.5" height="1.4" fill="#1a1a78"/>
</svg></body></html>
